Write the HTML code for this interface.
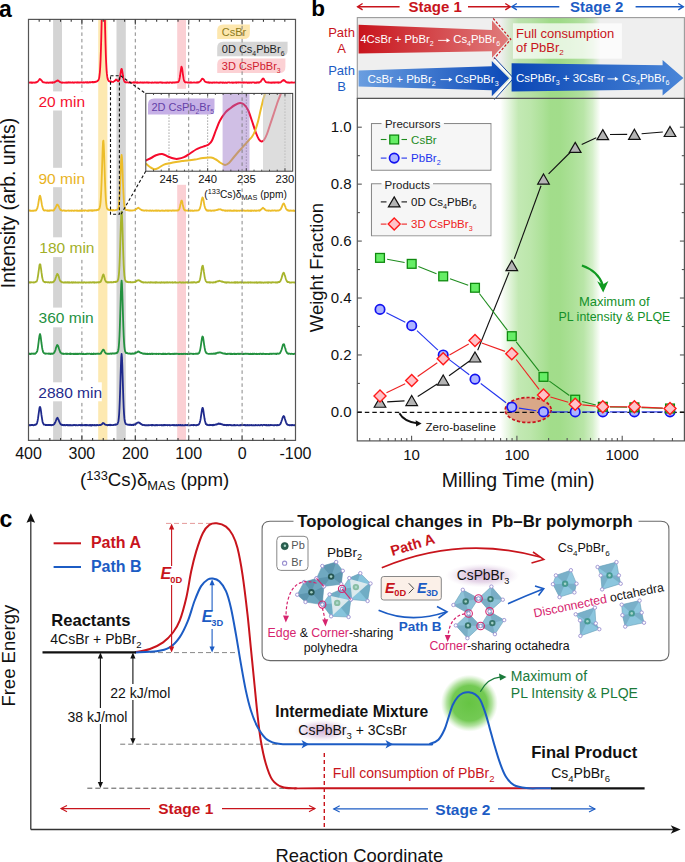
<!DOCTYPE html>
<html><head><meta charset="utf-8"><title>figure</title>
<style>html,body{margin:0;padding:0;background:#fff;} svg{display:block;} text{font-family:"Liberation Sans", sans-serif;}</style>
</head><body>
<svg width="685" height="862" viewBox="0 0 685 862" font-family='"Liberation Sans", sans-serif'><defs>
<clipPath id="clipA"><rect x="28.5" y="19.4" width="267.0" height="421.0"/></clipPath>
<clipPath id="clipI"><rect x="145.8" y="93.4" width="146.89999999999998" height="77.79999999999998"/></clipPath>
</defs><g id="bands">
<rect x="53.10" y="19.40" width="8.90" height="421.00" fill="#d4d4d4" />
<rect x="98.20" y="19.40" width="9.20" height="421.00" fill="#fde9b1" />
<rect x="116.50" y="19.40" width="9.30" height="421.00" fill="#d4d4d4" />
<rect x="177.20" y="19.40" width="8.80" height="421.00" fill="#fbd0d4" />
</g>
<line x1="81.90" y1="19.40" x2="81.90" y2="440.40" stroke="#7a7a7a" stroke-width="0.9" stroke-dasharray="3.5,3"/>
<line x1="135.30" y1="19.40" x2="135.30" y2="440.40" stroke="#7a7a7a" stroke-width="0.9" stroke-dasharray="3.5,3"/>
<rect x="140.00" y="88.80" width="155.00" height="96.00" fill="#fff" />
<rect x="36.50" y="91.40" width="49.00" height="19.10" fill="#fff" />
<rect x="36.50" y="167.80" width="50.00" height="19.40" fill="#fff" />
<rect x="37.00" y="237.30" width="57.50" height="19.80" fill="#fff" />
<rect x="36.50" y="307.60" width="58.00" height="19.70" fill="#fff" />
<rect x="36.50" y="382.30" width="65.30" height="19.00" fill="#fff" />
<g clip-path="url(#clipA)" fill="none" stroke-linejoin="round">
<polyline points="28.50,82.43 28.85,82.60 29.20,82.50 29.55,82.63 29.90,82.64 30.25,82.33 30.60,82.30 30.95,82.76 31.30,82.43 31.65,82.42 32.00,82.84 32.35,82.54 32.70,82.75 33.05,82.54 33.40,82.63 33.75,82.35 34.10,82.62 34.45,82.74 34.80,82.54 35.15,82.64 35.50,82.58 35.85,82.20 36.20,82.52 36.55,82.32 36.90,82.00 37.25,81.62 37.60,81.79 37.95,81.19 38.30,80.88 38.65,80.48 39.00,79.90 39.35,79.59 39.70,79.01 40.05,79.15 40.40,79.10 40.75,79.71 41.10,80.12 41.45,80.18 41.80,80.68 42.15,81.16 42.50,81.93 42.85,81.91 43.20,82.23 43.55,82.18 43.90,82.39 44.25,82.38 44.60,82.40 44.95,82.55 45.30,82.57 45.65,82.75 46.00,82.63 46.35,82.78 46.70,82.74 47.05,82.82 47.40,82.64 47.75,82.36 48.10,82.75 48.45,82.81 48.80,82.78 49.15,82.59 49.50,82.67 49.85,82.39 50.20,82.73 50.55,82.59 50.90,82.42 51.25,82.30 51.60,82.74 51.95,82.81 52.30,82.30 52.65,82.69 53.00,82.45 53.35,82.28 53.70,82.31 54.05,82.51 54.40,82.47 54.75,81.86 55.10,81.99 55.45,81.44 55.80,81.54 56.15,81.04 56.50,81.07 56.85,80.90 57.20,80.49 57.55,80.76 57.90,80.49 58.25,80.58 58.60,81.15 58.95,81.12 59.30,81.48 59.65,81.84 60.00,82.15 60.35,82.04 60.70,82.09 61.05,82.62 61.40,82.36 61.75,82.75 62.10,82.74 62.45,82.46 62.80,82.51 63.15,82.55 63.50,82.62 63.85,82.59 64.20,82.58 64.55,82.61 64.90,82.79 65.25,82.55 65.60,82.51 65.95,82.67 66.30,82.40 66.65,82.44 67.00,82.81 67.35,82.56 67.70,82.57 68.05,82.27 68.40,82.50 68.75,82.59 69.10,82.28 69.45,82.61 69.80,82.62 70.15,82.30 70.50,82.61 70.85,82.52 71.20,82.64 71.55,82.46 71.90,82.65 72.25,82.67 72.60,82.27 72.95,82.29 73.30,82.63 73.65,82.79 74.00,82.39 74.35,82.51 74.70,82.58 75.05,82.43 75.40,82.45 75.75,82.42 76.10,82.45 76.45,82.58 76.80,82.41 77.15,82.45 77.50,82.67 77.85,82.25 78.20,82.55 78.55,82.64 78.90,82.40 79.25,82.35 79.60,82.67 79.95,82.35 80.30,82.32 80.65,82.46 81.00,82.60 81.35,82.26 81.70,82.38 82.05,82.39 82.40,82.66 82.75,82.44 83.10,82.67 83.45,82.28 83.80,82.37 84.15,82.54 84.50,82.66 84.85,82.42 85.20,82.28 85.55,82.22 85.90,82.44 86.25,82.24 86.60,82.58 86.95,82.59 87.30,82.22 87.65,82.26 88.00,82.55 88.35,82.44 88.70,82.52 89.05,82.25 89.40,82.12 89.75,82.20 90.10,82.46 90.45,82.16 90.80,82.18 91.15,82.20 91.50,82.18 91.85,82.15 92.20,82.42 92.55,81.96 92.90,81.85 93.25,82.34 93.60,82.27 93.95,82.29 94.30,81.93 94.65,82.17 95.00,82.10 95.35,81.64 95.70,81.87 96.05,81.83 96.40,81.64 96.75,81.45 97.10,81.18 97.45,81.04 97.80,80.73 98.15,80.29 98.50,80.04 98.85,78.99 99.20,77.85 99.55,75.12 99.90,72.02 100.25,66.57 100.60,59.19 100.95,49.18 101.30,36.71 101.65,21.98 102.00,5.98 102.35,-8.98 102.70,-22.35 103.05,-30.64 103.40,-32.02 103.75,-26.46 104.10,-15.18 104.45,-0.23 104.80,15.34 105.15,30.36 105.50,43.76 105.85,55.18 106.20,63.51 106.55,69.89 106.90,73.92 107.25,76.63 107.60,78.58 107.95,79.82 108.30,80.13 108.65,80.89 109.00,81.24 109.35,81.37 109.70,81.53 110.05,81.19 110.40,81.63 110.75,81.85 111.10,81.46 111.45,81.65 111.80,81.70 112.15,81.88 112.50,81.85 112.85,81.88 113.20,82.03 113.55,81.52 113.90,81.41 114.25,81.22 114.60,80.91 114.95,80.49 115.30,80.59 115.65,80.14 116.00,79.47 116.35,79.69 116.70,79.80 117.05,80.15 117.40,80.57 117.75,81.08 118.10,81.26 118.45,81.15 118.80,80.80 119.15,80.26 119.50,79.09 119.85,77.78 120.20,75.88 120.55,73.43 120.90,71.04 121.25,69.39 121.60,68.85 121.95,69.65 122.30,71.47 122.65,73.48 123.00,76.01 123.35,77.93 123.70,79.42 124.05,80.53 124.40,81.34 124.75,81.90 125.10,82.00 125.45,82.29 125.80,82.24 126.15,82.17 126.50,82.36 126.85,82.47 127.20,82.14 127.55,82.36 127.90,82.37 128.25,82.64 128.60,82.68 128.95,82.37 129.30,82.68 129.65,82.62 130.00,82.33 130.35,82.45 130.70,82.27 131.05,82.66 131.40,82.58 131.75,82.71 132.10,82.66 132.45,82.59 132.80,82.64 133.15,82.54 133.50,82.29 133.85,82.56 134.20,82.24 134.55,82.32 134.90,82.68 135.25,82.27 135.60,82.30 135.95,82.30 136.30,82.74 136.65,82.35 137.00,82.27 137.35,82.73 137.70,82.32 138.05,82.73 138.40,82.64 138.75,82.73 139.10,82.80 139.45,82.59 139.80,82.71 140.15,82.29 140.50,82.70 140.85,82.55 141.20,82.67 141.55,82.33 141.90,82.69 142.25,82.80 142.60,82.31 142.95,82.46 143.30,82.59 143.65,82.74 144.00,82.41 144.35,82.38 144.70,82.42 145.05,82.62 145.40,82.70 145.75,82.50 146.10,82.49 146.45,82.50 146.80,82.48 147.15,82.52 147.50,82.33 147.85,82.56 148.20,82.83 148.55,82.51 148.90,82.70 149.25,82.37 149.60,82.67 149.95,82.71 150.30,82.66 150.65,82.58 151.00,82.56 151.35,82.65 151.70,82.79 152.05,82.37 152.40,82.34 152.75,82.71 153.10,82.80 153.45,82.58 153.80,82.54 154.15,82.69 154.50,82.39 154.85,82.44 155.20,82.40 155.55,82.62 155.90,82.47 156.25,82.42 156.60,82.68 156.95,82.82 157.30,82.46 157.65,82.68 158.00,82.52 158.35,82.77 158.70,82.62 159.05,82.44 159.40,82.41 159.75,82.30 160.10,82.56 160.45,82.50 160.80,82.39 161.15,82.49 161.50,82.47 161.85,82.72 162.20,82.37 162.55,82.84 162.90,82.56 163.25,82.62 163.60,82.55 163.95,82.75 164.30,82.75 164.65,82.60 165.00,82.56 165.35,82.69 165.70,82.76 166.05,82.51 166.40,82.69 166.75,82.82 167.10,82.54 167.45,82.41 167.80,82.41 168.15,82.68 168.50,82.66 168.85,82.81 169.20,82.75 169.55,82.41 169.90,82.38 170.25,82.41 170.60,82.37 170.95,82.66 171.30,82.74 171.65,82.76 172.00,82.40 172.35,82.74 172.70,82.42 173.05,82.48 173.40,82.65 173.75,82.28 174.10,82.28 174.45,82.69 174.80,82.37 175.15,82.40 175.50,82.51 175.85,82.55 176.20,82.16 176.55,82.32 176.90,82.35 177.25,82.34 177.60,82.11 177.95,82.20 178.30,82.18 178.65,81.46 179.00,80.85 179.35,79.49 179.70,77.95 180.05,76.01 180.40,73.12 180.75,70.86 181.10,68.53 181.45,66.71 181.80,67.29 182.15,68.52 182.50,71.17 182.85,73.87 183.20,76.14 183.55,78.44 183.90,79.98 184.25,81.11 184.60,81.46 184.95,82.11 185.30,82.43 185.65,82.38 186.00,82.37 186.35,82.17 186.70,82.41 187.05,82.35 187.40,82.58 187.75,82.57 188.10,82.52 188.45,82.31 188.80,82.58 189.15,82.58 189.50,82.33 189.85,82.73 190.20,82.61 190.55,82.31 190.90,82.77 191.25,82.33 191.60,82.44 191.95,82.66 192.30,82.59 192.65,82.57 193.00,82.62 193.35,82.51 193.70,82.43 194.05,82.36 194.40,82.30 194.75,82.66 195.10,82.68 195.45,82.56 195.80,82.66 196.15,82.45 196.50,82.39 196.85,82.45 197.20,82.71 197.55,82.23 197.90,82.46 198.25,82.27 198.60,82.49 198.95,82.15 199.30,81.98 199.65,81.80 200.00,81.58 200.35,81.35 200.70,80.68 201.05,80.48 201.40,79.58 201.75,79.22 202.10,78.77 202.45,78.59 202.80,78.97 203.15,79.17 203.50,79.23 203.85,79.70 204.20,80.31 204.55,80.97 204.90,81.43 205.25,81.75 205.60,81.94 205.95,81.91 206.30,82.20 206.65,82.19 207.00,82.44 207.35,82.51 207.70,82.33 208.05,82.38 208.40,82.69 208.75,82.27 209.10,82.71 209.45,82.77 209.80,82.80 210.15,82.49 210.50,82.59 210.85,82.61 211.20,82.64 211.55,82.83 211.90,82.67 212.25,82.46 212.60,82.77 212.95,82.56 213.30,82.63 213.65,82.70 214.00,82.30 214.35,82.73 214.70,82.67 215.05,82.57 215.40,82.59 215.75,82.56 216.10,82.41 216.45,82.60 216.80,82.32 217.15,82.58 217.50,82.66 217.85,82.55 218.20,82.62 218.55,82.84 218.90,82.80 219.25,82.38 219.60,82.75 219.95,82.65 220.30,82.33 220.65,82.51 221.00,82.44 221.35,82.35 221.70,82.61 222.05,82.83 222.40,82.49 222.75,82.79 223.10,82.70 223.45,82.38 223.80,82.79 224.15,82.64 224.50,82.83 224.85,82.71 225.20,82.72 225.55,82.50 225.90,82.76 226.25,82.83 226.60,82.79 226.95,82.55 227.30,82.73 227.65,82.58 228.00,82.37 228.35,82.33 228.70,82.35 229.05,82.42 229.40,82.40 229.75,82.59 230.10,82.70 230.45,82.61 230.80,82.55 231.15,82.67 231.50,82.48 231.85,82.57 232.20,82.73 232.55,82.54 232.90,82.41 233.25,82.81 233.60,82.71 233.95,82.52 234.30,82.52 234.65,82.61 235.00,82.64 235.35,82.44 235.70,82.31 236.05,82.43 236.40,82.75 236.75,82.39 237.10,82.57 237.45,82.42 237.80,82.43 238.15,82.41 238.50,82.54 238.85,82.40 239.20,82.33 239.55,82.37 239.90,82.40 240.25,82.58 240.60,82.34 240.95,82.32 241.30,82.56 241.65,82.54 242.00,82.70 242.35,82.34 242.70,82.54 243.05,82.53 243.40,82.32 243.75,82.85 244.10,82.43 244.45,82.36 244.80,82.57 245.15,82.40 245.50,82.66 245.85,82.50 246.20,82.38 246.55,82.34 246.90,82.72 247.25,82.46 247.60,82.75 247.95,82.57 248.30,82.83 248.65,82.47 249.00,82.45 249.35,82.45 249.70,82.76 250.05,82.66 250.40,82.50 250.75,82.36 251.10,82.69 251.45,82.85 251.80,82.63 252.15,82.30 252.50,82.32 252.85,82.35 253.20,82.39 253.55,82.32 253.90,82.33 254.25,82.66 254.60,82.80 254.95,82.40 255.30,82.83 255.65,82.55 256.00,82.73 256.35,82.79 256.70,82.80 257.05,82.29 257.40,82.43 257.75,82.60 258.10,82.77 258.45,82.27 258.80,82.36 259.15,82.62 259.50,82.11 259.85,82.13 260.20,81.88 260.55,81.76 260.90,81.48 261.25,80.55 261.60,80.27 261.95,79.65 262.30,79.14 262.65,78.58 263.00,78.63 263.35,78.47 263.70,78.91 264.05,79.37 264.40,80.29 264.75,80.72 265.10,81.11 265.45,81.47 265.80,82.09 266.15,82.25 266.50,82.45 266.85,82.35 267.20,82.46 267.55,82.31 267.90,82.64 268.25,82.27 268.60,82.52 268.95,82.69 269.30,82.65 269.65,82.33 270.00,82.41 270.35,82.75 270.70,82.64 271.05,82.78 271.40,82.77 271.75,82.54 272.10,82.79 272.45,82.70 272.80,82.48 273.15,82.50 273.50,82.33 273.85,82.51 274.20,82.83 274.55,82.35 274.90,82.61 275.25,82.35 275.60,82.33 275.95,82.65 276.30,82.42 276.65,82.31 277.00,82.37 277.35,82.64 277.70,82.60 278.05,82.28 278.40,82.39 278.75,82.79 279.10,82.34 279.45,82.50 279.80,82.36 280.15,82.48 280.50,82.26 280.85,82.19 281.20,81.84 281.55,81.39 281.90,81.09 282.25,80.73 282.60,80.85 282.95,80.20 283.30,79.98 283.65,80.46 284.00,80.11 284.35,80.70 284.70,80.52 285.05,81.04 285.40,81.21 285.75,81.83 286.10,81.95 286.45,82.17 286.80,82.39 287.15,82.56 287.50,82.34 287.85,82.54 288.20,82.48 288.55,82.32 288.90,82.73 289.25,82.61 289.60,82.74 289.95,82.40 290.30,82.59 290.65,82.55 291.00,82.70 291.35,82.34 291.70,82.49 292.05,82.57 292.40,82.34 292.75,82.61 293.10,82.71 293.45,82.54 293.80,82.67 294.15,82.64 294.50,82.43 294.85,82.50 295.20,82.86" stroke="#fa0a2c" stroke-width="1.8"/>
<polyline points="28.50,210.55 28.85,210.60 29.20,210.41 29.55,210.48 29.90,210.45 30.25,210.87 30.60,210.75 30.95,210.83 31.30,210.89 31.65,210.67 32.00,210.84 32.35,210.61 32.70,210.54 33.05,210.82 33.40,210.78 33.75,210.79 34.10,210.52 34.45,210.66 34.80,210.42 35.15,210.70 35.50,210.59 35.85,210.11 36.20,210.27 36.55,209.51 36.90,208.92 37.25,208.45 37.60,207.05 37.95,205.63 38.30,203.81 38.65,201.33 39.00,199.53 39.35,197.31 39.70,196.05 40.05,195.61 40.40,196.52 40.75,198.09 41.10,199.89 41.45,201.99 41.80,204.18 42.15,206.04 42.50,207.29 42.85,208.39 43.20,209.46 43.55,209.90 43.90,210.35 44.25,210.53 44.60,210.57 44.95,210.35 45.30,210.27 45.65,210.39 46.00,210.49 46.35,210.54 46.70,210.56 47.05,210.47 47.40,210.75 47.75,210.44 48.10,210.55 48.45,210.79 48.80,210.75 49.15,210.46 49.50,210.43 49.85,210.75 50.20,210.30 50.55,210.37 50.90,210.59 51.25,210.58 51.60,210.37 51.95,210.28 52.30,210.35 52.65,210.62 53.00,210.38 53.35,210.56 53.70,210.29 54.05,210.17 54.40,209.30 54.75,208.94 55.10,208.29 55.45,207.86 55.80,207.06 56.15,206.13 56.50,205.68 56.85,204.84 57.20,204.61 57.55,204.55 57.90,205.17 58.25,205.52 58.60,206.14 58.95,206.79 59.30,207.76 59.65,208.55 60.00,209.15 60.35,209.75 60.70,210.04 61.05,209.98 61.40,210.09 61.75,210.55 62.10,210.64 62.45,210.53 62.80,210.74 63.15,210.60 63.50,210.46 63.85,210.41 64.20,210.33 64.55,210.69 64.90,210.84 65.25,210.85 65.60,210.61 65.95,210.72 66.30,210.87 66.65,210.81 67.00,210.69 67.35,210.59 67.70,210.65 68.05,210.46 68.40,210.46 68.75,210.75 69.10,210.92 69.45,210.67 69.80,210.59 70.15,210.56 70.50,210.62 70.85,210.82 71.20,210.62 71.55,210.90 71.90,210.45 72.25,210.54 72.60,210.66 72.95,210.60 73.30,210.84 73.65,210.83 74.00,210.89 74.35,210.71 74.70,210.38 75.05,210.69 75.40,210.67 75.75,210.64 76.10,210.52 76.45,210.76 76.80,210.87 77.15,210.42 77.50,210.74 77.85,210.57 78.20,210.65 78.55,210.86 78.90,210.90 79.25,210.72 79.60,210.47 79.95,210.87 80.30,210.46 80.65,210.57 81.00,210.82 81.35,210.53 81.70,210.50 82.05,210.88 82.40,210.87 82.75,210.52 83.10,210.56 83.45,210.50 83.80,210.41 84.15,210.48 84.50,210.88 84.85,210.37 85.20,210.46 85.55,210.44 85.90,210.37 86.25,210.61 86.60,210.73 86.95,210.78 87.30,210.66 87.65,210.76 88.00,210.30 88.35,210.45 88.70,210.83 89.05,210.32 89.40,210.42 89.75,210.54 90.10,210.41 90.45,210.56 90.80,210.27 91.15,210.37 91.50,210.76 91.85,210.30 92.20,210.71 92.55,210.29 92.90,210.73 93.25,210.54 93.60,210.51 93.95,210.20 94.30,210.13 94.65,210.51 95.00,210.15 95.35,210.13 95.70,210.45 96.05,210.44 96.40,209.93 96.75,210.39 97.10,210.09 97.45,209.93 97.80,209.69 98.15,209.74 98.50,209.91 98.85,209.27 99.20,208.78 99.55,208.07 99.90,206.81 100.25,204.81 100.60,201.71 100.95,196.11 101.30,189.02 101.65,180.30 102.00,169.67 102.35,158.54 102.70,148.18 103.05,141.60 103.40,140.65 103.75,144.92 104.10,153.86 104.45,164.49 104.80,175.34 105.15,185.40 105.50,193.65 105.85,199.64 106.20,203.62 106.55,206.18 106.90,207.80 107.25,208.65 107.60,209.21 107.95,209.68 108.30,209.51 108.65,209.85 109.00,210.13 109.35,210.16 109.70,209.84 110.05,210.33 110.40,210.30 110.75,209.96 111.10,210.04 111.45,210.02 111.80,209.96 112.15,210.49 112.50,210.17 112.85,210.44 113.20,210.01 113.55,209.95 113.90,210.43 114.25,210.37 114.60,210.46 114.95,210.27 115.30,210.15 115.65,210.25 116.00,209.83 116.35,210.02 116.70,209.88 117.05,209.61 117.40,209.69 117.75,209.23 118.10,208.77 118.45,207.67 118.80,205.81 119.15,202.78 119.50,198.21 119.85,191.82 120.20,183.42 120.55,173.92 120.90,164.65 121.25,157.24 121.60,154.89 121.95,157.24 122.30,164.26 122.65,173.73 123.00,183.33 123.35,191.49 123.70,198.27 124.05,202.77 124.40,206.21 124.75,207.76 125.10,208.81 125.45,209.40 125.80,209.90 126.15,210.15 126.50,210.01 126.85,210.05 127.20,210.21 127.55,209.96 127.90,210.20 128.25,210.48 128.60,210.47 128.95,210.10 129.30,210.57 129.65,210.33 130.00,210.68 130.35,210.35 130.70,210.28 131.05,210.48 131.40,210.67 131.75,210.42 132.10,210.67 132.45,210.57 132.80,210.36 133.15,210.31 133.50,210.38 133.85,210.27 134.20,210.17 134.55,210.22 134.90,210.21 135.25,209.88 135.60,209.44 135.95,209.25 136.30,209.08 136.65,208.95 137.00,208.43 137.35,208.16 137.70,208.09 138.05,207.94 138.40,207.76 138.75,208.09 139.10,208.44 139.45,208.43 139.80,208.79 140.15,209.10 140.50,209.38 140.85,209.68 141.20,209.65 141.55,209.99 141.90,209.85 142.25,210.42 142.60,210.25 142.95,210.39 143.30,210.69 143.65,210.40 144.00,210.37 144.35,210.75 144.70,210.64 145.05,210.37 145.40,210.34 145.75,210.53 146.10,210.34 146.45,210.81 146.80,210.45 147.15,210.50 147.50,210.57 147.85,210.64 148.20,210.60 148.55,210.71 148.90,210.73 149.25,210.61 149.60,210.42 149.95,210.92 150.30,210.76 150.65,210.42 151.00,210.62 151.35,210.79 151.70,210.93 152.05,210.41 152.40,210.38 152.75,210.65 153.10,210.61 153.45,210.88 153.80,210.84 154.15,210.57 154.50,210.61 154.85,210.71 155.20,210.88 155.55,210.50 155.90,210.60 156.25,210.43 156.60,210.74 156.95,210.40 157.30,210.91 157.65,210.68 158.00,210.71 158.35,210.43 158.70,210.52 159.05,210.65 159.40,210.87 159.75,210.69 160.10,210.55 160.45,210.94 160.80,210.76 161.15,210.68 161.50,210.50 161.85,210.55 162.20,210.89 162.55,210.46 162.90,210.68 163.25,210.73 163.60,210.59 163.95,210.82 164.30,210.90 164.65,210.87 165.00,210.80 165.35,210.50 165.70,210.42 166.05,210.63 166.40,210.56 166.75,210.49 167.10,210.87 167.45,210.50 167.80,210.84 168.15,210.91 168.50,210.45 168.85,210.89 169.20,210.60 169.55,210.50 169.90,210.48 170.25,210.40 170.60,210.65 170.95,210.59 171.30,210.85 171.65,210.84 172.00,210.40 172.35,210.59 172.70,210.58 173.05,210.46 173.40,210.50 173.75,210.50 174.10,210.74 174.45,210.53 174.80,210.40 175.15,210.45 175.50,210.57 175.85,210.63 176.20,210.44 176.55,210.68 176.90,210.39 177.25,210.62 177.60,210.54 177.95,210.22 178.30,210.40 178.65,209.93 179.00,209.56 179.35,208.87 179.70,207.84 180.05,206.34 180.40,204.46 180.75,203.13 181.10,201.66 181.45,200.57 181.80,200.69 182.15,201.51 182.50,203.43 182.85,205.06 183.20,206.43 183.55,208.11 183.90,209.21 184.25,209.53 184.60,210.31 184.95,210.27 185.30,210.23 185.65,210.60 186.00,210.43 186.35,210.67 186.70,210.61 187.05,210.35 187.40,210.60 187.75,210.79 188.10,210.59 188.45,210.63 188.80,210.81 189.15,210.58 189.50,210.61 189.85,210.66 190.20,210.80 190.55,210.45 190.90,210.39 191.25,210.77 191.60,210.65 191.95,210.51 192.30,210.84 192.65,210.83 193.00,210.64 193.35,210.88 193.70,210.79 194.05,210.74 194.40,210.48 194.75,210.32 195.10,210.68 195.45,210.71 195.80,210.48 196.15,210.54 196.50,210.58 196.85,210.39 197.20,210.62 197.55,210.51 197.90,210.36 198.25,210.13 198.60,210.24 198.95,209.89 199.30,209.75 199.65,208.86 200.00,208.15 200.35,206.87 200.70,205.50 201.05,203.82 201.40,201.63 201.75,199.72 202.10,198.42 202.45,197.40 202.80,197.64 203.15,198.43 203.50,200.00 203.85,202.14 204.20,204.28 204.55,205.99 204.90,207.24 205.25,208.29 205.60,208.90 205.95,209.56 206.30,209.92 206.65,210.48 207.00,210.15 207.35,210.69 207.70,210.47 208.05,210.47 208.40,210.40 208.75,210.80 209.10,210.38 209.45,210.61 209.80,210.58 210.15,210.42 210.50,210.43 210.85,210.87 211.20,210.76 211.55,210.73 211.90,210.82 212.25,210.37 212.60,210.70 212.95,210.71 213.30,210.40 213.65,210.51 214.00,210.77 214.35,210.37 214.70,210.57 215.05,210.18 215.40,210.39 215.75,210.09 216.10,210.14 216.45,209.97 216.80,210.14 217.15,209.97 217.50,209.73 217.85,209.73 218.20,209.49 218.55,209.63 218.90,209.27 219.25,209.40 219.60,209.43 219.95,209.35 220.30,209.22 220.65,209.37 221.00,209.72 221.35,209.59 221.70,210.00 222.05,209.97 222.40,210.32 222.75,210.36 223.10,210.38 223.45,210.26 223.80,210.14 224.15,210.49 224.50,210.64 224.85,210.78 225.20,210.41 225.55,210.40 225.90,210.88 226.25,210.76 226.60,210.63 226.95,210.78 227.30,210.46 227.65,210.68 228.00,210.76 228.35,210.72 228.70,210.48 229.05,210.47 229.40,210.74 229.75,210.89 230.10,210.47 230.45,210.40 230.80,210.44 231.15,210.84 231.50,210.61 231.85,210.65 232.20,210.95 232.55,210.74 232.90,210.55 233.25,210.79 233.60,210.40 233.95,210.56 234.30,210.79 234.65,210.50 235.00,210.42 235.35,210.69 235.70,210.59 236.05,210.95 236.40,210.46 236.75,210.85 237.10,210.62 237.45,210.85 237.80,210.65 238.15,210.78 238.50,210.59 238.85,210.53 239.20,210.66 239.55,210.85 239.90,210.60 240.25,210.53 240.60,210.64 240.95,210.46 241.30,210.58 241.65,210.73 242.00,210.71 242.35,210.74 242.70,210.57 243.05,210.42 243.40,210.42 243.75,210.60 244.10,210.52 244.45,210.72 244.80,210.55 245.15,210.83 245.50,210.74 245.85,210.78 246.20,210.82 246.55,210.70 246.90,210.64 247.25,210.58 247.60,210.44 247.95,210.85 248.30,210.68 248.65,210.46 249.00,210.92 249.35,210.73 249.70,210.75 250.05,210.65 250.40,210.47 250.75,210.96 251.10,210.50 251.45,210.61 251.80,210.96 252.15,210.47 252.50,210.68 252.85,210.67 253.20,210.54 253.55,210.91 253.90,210.63 254.25,210.40 254.60,210.66 254.95,210.39 255.30,210.79 255.65,210.87 256.00,210.89 256.35,210.41 256.70,210.76 257.05,210.55 257.40,210.64 257.75,210.53 258.10,210.52 258.45,210.41 258.80,210.66 259.15,210.31 259.50,210.72 259.85,210.09 260.20,210.45 260.55,209.80 260.90,209.46 261.25,209.50 261.60,209.02 261.95,208.78 262.30,208.31 262.65,208.15 263.00,207.75 263.35,208.17 263.70,208.31 264.05,208.89 264.40,208.72 264.75,209.12 265.10,209.79 265.45,210.21 265.80,210.14 266.15,210.46 266.50,210.49 266.85,210.47 267.20,210.56 267.55,210.66 267.90,210.36 268.25,210.53 268.60,210.77 268.95,210.51 269.30,210.63 269.65,210.51 270.00,210.57 270.35,210.74 270.70,210.79 271.05,210.91 271.40,210.64 271.75,210.49 272.10,210.56 272.45,210.41 272.80,210.51 273.15,210.70 273.50,210.71 273.85,210.50 274.20,210.47 274.55,210.42 274.90,210.46 275.25,210.64 275.60,210.50 275.95,210.84 276.30,210.66 276.65,210.53 277.00,210.57 277.35,210.34 277.70,210.72 278.05,210.71 278.40,210.46 278.75,210.62 279.10,210.29 279.45,210.15 279.80,209.98 280.15,209.70 280.50,209.57 280.85,209.09 281.20,208.51 281.55,207.39 281.90,206.89 282.25,205.81 282.60,204.85 282.95,204.16 283.30,203.61 283.65,203.33 284.00,203.70 284.35,204.43 284.70,205.29 285.05,206.32 285.40,206.83 285.75,208.07 286.10,208.75 286.45,209.29 286.80,209.90 287.15,209.76 287.50,210.35 287.85,210.57 288.20,210.24 288.55,210.56 288.90,210.80 289.25,210.46 289.60,210.79 289.95,210.83 290.30,210.58 290.65,210.43 291.00,210.47 291.35,210.82 291.70,210.60 292.05,210.54 292.40,210.62 292.75,210.89 293.10,210.52 293.45,210.39 293.80,210.91 294.15,210.56 294.50,210.60 294.85,210.93 295.20,210.55" stroke="#ecbd2a" stroke-width="1.8"/>
<polyline points="28.50,282.21 28.85,282.65 29.20,282.29 29.55,282.27 29.90,282.67 30.25,282.26 30.60,282.63 30.95,282.31 31.30,282.29 31.65,282.23 32.00,282.40 32.35,282.40 32.70,282.30 33.05,282.35 33.40,282.22 33.75,282.50 34.10,282.53 34.45,282.40 34.80,282.40 35.15,281.93 35.50,281.94 35.85,281.76 36.20,281.48 36.55,281.51 36.90,280.81 37.25,279.81 37.60,278.17 37.95,276.03 38.30,273.87 38.65,271.02 39.00,268.79 39.35,266.02 39.70,264.36 40.05,264.25 40.40,264.68 40.75,267.02 41.10,269.22 41.45,272.13 41.80,274.39 42.15,277.05 42.50,278.53 42.85,279.81 43.20,280.88 43.55,281.43 43.90,281.60 44.25,281.75 44.60,282.13 44.95,281.90 45.30,282.42 45.65,282.16 46.00,282.08 46.35,282.19 46.70,282.09 47.05,282.21 47.40,282.35 47.75,282.28 48.10,282.25 48.45,282.23 48.80,282.34 49.15,282.50 49.50,282.31 49.85,282.50 50.20,282.34 50.55,282.13 50.90,282.15 51.25,282.52 51.60,282.30 51.95,282.22 52.30,282.26 52.65,282.39 53.00,282.03 53.35,281.88 53.70,281.65 54.05,281.12 54.40,280.95 54.75,280.29 55.10,279.52 55.45,278.56 55.80,277.53 56.15,276.59 56.50,275.28 56.85,274.90 57.20,273.93 57.55,274.32 57.90,274.36 58.25,275.49 58.60,276.19 58.95,277.17 59.30,278.48 59.65,279.60 60.00,280.41 60.35,281.08 60.70,281.62 61.05,281.46 61.40,281.88 61.75,281.89 62.10,282.36 62.45,282.25 62.80,282.46 63.15,282.51 63.50,282.64 63.85,282.48 64.20,282.60 64.55,282.43 64.90,282.17 65.25,282.63 65.60,282.19 65.95,282.19 66.30,282.61 66.65,282.31 67.00,282.53 67.35,282.17 67.70,282.28 68.05,282.56 68.40,282.19 68.75,282.45 69.10,282.69 69.45,282.29 69.80,282.57 70.15,282.59 70.50,282.52 70.85,282.61 71.20,282.57 71.55,282.19 71.90,282.29 72.25,282.48 72.60,282.73 72.95,282.30 73.30,282.51 73.65,282.26 74.00,282.66 74.35,282.43 74.70,282.48 75.05,282.56 75.40,282.26 75.75,282.60 76.10,282.64 76.45,282.67 76.80,282.35 77.15,282.32 77.50,282.28 77.85,282.69 78.20,282.43 78.55,282.41 78.90,282.48 79.25,282.58 79.60,282.37 79.95,282.38 80.30,282.62 80.65,282.62 81.00,282.35 81.35,282.23 81.70,282.71 82.05,282.60 82.40,282.52 82.75,282.41 83.10,282.72 83.45,282.43 83.80,282.31 84.15,282.24 84.50,282.38 84.85,282.52 85.20,282.39 85.55,282.72 85.90,282.55 86.25,282.44 86.60,282.55 86.95,282.52 87.30,282.53 87.65,282.46 88.00,282.47 88.35,282.46 88.70,282.65 89.05,282.29 89.40,282.62 89.75,282.34 90.10,282.65 90.45,282.22 90.80,282.45 91.15,282.42 91.50,282.57 91.85,282.28 92.20,282.32 92.55,282.24 92.90,282.48 93.25,282.49 93.60,282.16 93.95,282.26 94.30,282.27 94.65,282.69 95.00,282.40 95.35,282.46 95.70,282.30 96.05,282.51 96.40,282.59 96.75,282.50 97.10,282.12 97.45,282.36 97.80,282.38 98.15,282.12 98.50,282.52 98.85,282.24 99.20,282.19 99.55,282.33 99.90,282.21 100.25,281.99 100.60,281.90 100.95,281.23 101.30,280.41 101.65,279.27 102.00,278.33 102.35,276.91 102.70,275.78 103.05,274.84 103.40,274.48 103.75,275.07 104.10,276.23 104.45,277.50 104.80,279.19 105.15,280.12 105.50,280.76 105.85,281.60 106.20,281.92 106.55,281.81 106.90,282.31 107.25,282.08 107.60,282.54 107.95,282.08 108.30,282.16 108.65,282.15 109.00,282.49 109.35,282.47 109.70,282.33 110.05,282.09 110.40,282.24 110.75,282.38 111.10,282.01 111.45,282.48 111.80,282.43 112.15,282.46 112.50,282.32 112.85,282.25 113.20,282.43 113.55,282.01 113.90,282.00 114.25,281.86 114.60,281.86 114.95,282.16 115.30,281.71 115.65,282.01 116.00,281.74 116.35,281.92 116.70,281.73 117.05,281.51 117.40,281.32 117.75,280.38 118.10,279.62 118.45,278.10 118.80,275.46 119.15,271.32 119.50,265.13 119.85,256.50 120.20,246.09 120.55,234.35 120.90,223.04 121.25,214.70 121.60,211.62 121.95,214.88 122.30,223.04 122.65,234.16 123.00,245.91 123.35,256.22 123.70,265.13 124.05,270.95 124.40,275.58 124.75,278.17 125.10,279.58 125.45,280.67 125.80,281.11 126.15,281.67 126.50,281.80 126.85,281.76 127.20,282.01 127.55,282.09 127.90,281.75 128.25,282.18 128.60,282.22 128.95,282.35 129.30,282.25 129.65,282.08 130.00,282.00 130.35,282.27 130.70,282.04 131.05,282.36 131.40,282.27 131.75,282.42 132.10,282.16 132.45,282.13 132.80,282.46 133.15,282.31 133.50,282.12 133.85,282.18 134.20,282.04 134.55,282.07 134.90,281.89 135.25,281.62 135.60,281.84 135.95,281.60 136.30,281.31 136.65,280.82 137.00,280.56 137.35,280.66 137.70,280.54 138.05,280.34 138.40,280.06 138.75,280.38 139.10,280.39 139.45,280.48 139.80,280.81 140.15,280.95 140.50,281.29 140.85,281.57 141.20,281.90 141.55,281.59 141.90,281.99 142.25,282.32 142.60,282.26 142.95,282.29 143.30,282.50 143.65,282.08 144.00,282.53 144.35,282.46 144.70,282.45 145.05,282.31 145.40,282.49 145.75,282.21 146.10,282.44 146.45,282.30 146.80,282.68 147.15,282.61 147.50,282.43 147.85,282.59 148.20,282.38 148.55,282.46 148.90,282.26 149.25,282.65 149.60,282.60 149.95,282.60 150.30,282.22 150.65,282.64 151.00,282.19 151.35,282.50 151.70,282.45 152.05,282.21 152.40,282.42 152.75,282.68 153.10,282.53 153.45,282.36 153.80,282.64 154.15,282.39 154.50,282.69 154.85,282.41 155.20,282.23 155.55,282.73 155.90,282.23 156.25,282.33 156.60,282.62 156.95,282.26 157.30,282.50 157.65,282.67 158.00,282.52 158.35,282.39 158.70,282.62 159.05,282.66 159.40,282.52 159.75,282.55 160.10,282.38 160.45,282.42 160.80,282.75 161.15,282.74 161.50,282.20 161.85,282.31 162.20,282.32 162.55,282.64 162.90,282.31 163.25,282.29 163.60,282.63 163.95,282.29 164.30,282.75 164.65,282.45 165.00,282.70 165.35,282.66 165.70,282.31 166.05,282.64 166.40,282.43 166.75,282.32 167.10,282.23 167.45,282.59 167.80,282.51 168.15,282.37 168.50,282.67 168.85,282.31 169.20,282.45 169.55,282.25 169.90,282.40 170.25,282.70 170.60,282.48 170.95,282.29 171.30,282.33 171.65,282.56 172.00,282.36 172.35,282.70 172.70,282.23 173.05,282.69 173.40,282.55 173.75,282.66 174.10,282.40 174.45,282.24 174.80,282.30 175.15,282.55 175.50,282.21 175.85,282.26 176.20,282.64 176.55,282.69 176.90,282.68 177.25,282.67 177.60,282.51 177.95,282.69 178.30,282.59 178.65,282.51 179.00,282.44 179.35,282.21 179.70,282.25 180.05,282.34 180.40,282.45 180.75,282.26 181.10,282.74 181.45,282.52 181.80,282.61 182.15,282.69 182.50,282.32 182.85,282.69 183.20,282.73 183.55,282.34 183.90,282.26 184.25,282.64 184.60,282.69 184.95,282.64 185.30,282.42 185.65,282.52 186.00,282.25 186.35,282.32 186.70,282.42 187.05,282.60 187.40,282.23 187.75,282.70 188.10,282.20 188.45,282.72 188.80,282.31 189.15,282.63 189.50,282.63 189.85,282.70 190.20,282.43 190.55,282.56 190.90,282.33 191.25,282.63 191.60,282.22 191.95,282.65 192.30,282.48 192.65,282.18 193.00,282.67 193.35,282.31 193.70,282.17 194.05,282.27 194.40,282.13 194.75,282.26 195.10,282.49 195.45,282.64 195.80,282.43 196.15,282.54 196.50,282.50 196.85,282.42 197.20,282.20 197.55,282.09 197.90,281.97 198.25,282.09 198.60,281.72 198.95,281.73 199.30,281.03 199.65,280.43 200.00,279.33 200.35,277.87 200.70,275.68 201.05,273.46 201.40,271.22 201.75,268.53 202.10,266.81 202.45,265.87 202.80,265.63 203.15,267.21 203.50,269.08 203.85,271.72 204.20,273.95 204.55,276.32 204.90,278.14 205.25,279.31 205.60,280.52 205.95,281.25 206.30,281.62 206.65,282.00 207.00,282.30 207.35,282.33 207.70,282.40 208.05,282.06 208.40,282.40 208.75,282.38 209.10,282.57 209.45,282.06 209.80,282.17 210.15,282.63 210.50,282.30 210.85,282.49 211.20,282.43 211.55,282.32 211.90,282.34 212.25,282.41 212.60,282.64 212.95,282.37 213.30,282.50 213.65,282.20 214.00,282.39 214.35,282.29 214.70,282.32 215.05,282.33 215.40,281.80 215.75,282.21 216.10,281.91 216.45,281.60 216.80,281.60 217.15,281.27 217.50,281.23 217.85,281.45 218.20,281.27 218.55,281.27 218.90,280.82 219.25,280.76 219.60,280.91 219.95,281.01 220.30,281.20 220.65,281.06 221.00,281.42 221.35,281.45 221.70,281.41 222.05,281.81 222.40,281.53 222.75,281.93 223.10,281.81 223.45,281.82 223.80,282.14 224.15,282.23 224.50,282.34 224.85,282.25 225.20,282.59 225.55,282.54 225.90,282.21 226.25,282.14 226.60,282.69 226.95,282.39 227.30,282.23 227.65,282.27 228.00,282.57 228.35,282.28 228.70,282.39 229.05,282.57 229.40,282.39 229.75,282.56 230.10,282.72 230.45,282.64 230.80,282.55 231.15,282.54 231.50,282.37 231.85,282.55 232.20,282.56 232.55,282.53 232.90,282.47 233.25,282.62 233.60,282.31 233.95,282.60 234.30,282.75 234.65,282.22 235.00,282.34 235.35,282.75 235.70,282.25 236.05,282.66 236.40,282.53 236.75,282.24 237.10,282.56 237.45,282.21 237.80,282.68 238.15,282.37 238.50,282.72 238.85,282.71 239.20,282.28 239.55,282.43 239.90,282.29 240.25,282.63 240.60,282.26 240.95,282.25 241.30,282.27 241.65,282.69 242.00,282.35 242.35,282.39 242.70,282.46 243.05,282.52 243.40,282.44 243.75,282.74 244.10,282.40 244.45,282.47 244.80,282.69 245.15,282.34 245.50,282.31 245.85,282.68 246.20,282.39 246.55,282.71 246.90,282.67 247.25,282.42 247.60,282.39 247.95,282.27 248.30,282.70 248.65,282.46 249.00,282.40 249.35,282.31 249.70,282.34 250.05,282.70 250.40,282.28 250.75,282.52 251.10,282.56 251.45,282.50 251.80,282.49 252.15,282.43 252.50,282.32 252.85,282.67 253.20,282.71 253.55,282.52 253.90,282.35 254.25,282.72 254.60,282.32 254.95,282.30 255.30,282.56 255.65,282.67 256.00,282.53 256.35,282.27 256.70,282.76 257.05,282.30 257.40,282.40 257.75,282.76 258.10,282.65 258.45,282.63 258.80,282.25 259.15,282.68 259.50,282.43 259.85,282.21 260.20,282.65 260.55,282.73 260.90,282.23 261.25,282.46 261.60,282.71 261.95,282.39 262.30,282.37 262.65,282.64 263.00,282.45 263.35,282.76 263.70,282.68 264.05,282.68 264.40,282.60 264.75,282.31 265.10,282.59 265.45,282.52 265.80,282.47 266.15,282.52 266.50,282.37 266.85,282.31 267.20,282.71 267.55,282.40 267.90,282.26 268.25,282.74 268.60,282.48 268.95,282.57 269.30,282.38 269.65,282.27 270.00,282.38 270.35,282.65 270.70,282.34 271.05,282.70 271.40,282.35 271.75,282.68 272.10,282.28 272.45,282.43 272.80,282.25 273.15,282.25 273.50,282.46 273.85,282.37 274.20,282.46 274.55,282.28 274.90,282.33 275.25,282.33 275.60,282.64 275.95,282.18 276.30,282.36 276.65,282.60 277.00,282.43 277.35,282.24 277.70,282.63 278.05,282.11 278.40,282.08 278.75,281.95 279.10,282.09 279.45,282.17 279.80,281.61 280.15,281.26 280.50,281.05 280.85,279.97 281.20,279.08 281.55,278.40 281.90,276.89 282.25,275.88 282.60,274.44 282.95,273.65 283.30,273.10 283.65,272.68 284.00,272.93 284.35,273.94 284.70,275.09 285.05,275.97 285.40,277.32 285.75,278.55 286.10,279.62 286.45,280.30 286.80,281.13 287.15,281.36 287.50,282.04 287.85,281.94 288.20,282.00 288.55,282.01 288.90,282.09 289.25,282.18 289.60,282.57 289.95,282.33 290.30,282.36 290.65,282.66 291.00,282.67 291.35,282.57 291.70,282.28 292.05,282.33 292.40,282.44 292.75,282.30 293.10,282.36 293.45,282.29 293.80,282.31 294.15,282.59 294.50,282.51 294.85,282.43 295.20,282.45" stroke="#a7b42c" stroke-width="1.8"/>
<polyline points="28.50,353.90 28.85,353.93 29.20,353.56 29.55,354.01 29.90,353.80 30.25,353.72 30.60,354.06 30.95,353.94 31.30,353.71 31.65,353.52 32.00,353.74 32.35,353.73 32.70,353.68 33.05,353.51 33.40,353.76 33.75,353.56 34.10,353.82 34.45,353.66 34.80,353.49 35.15,353.73 35.50,353.42 35.85,353.06 36.20,352.90 36.55,352.33 36.90,351.83 37.25,351.03 37.60,349.53 37.95,347.35 38.30,344.60 38.65,341.86 39.00,338.97 39.35,336.51 39.70,334.89 40.05,334.03 40.40,335.20 40.75,337.21 41.10,340.03 41.45,343.00 41.80,345.48 42.15,347.94 42.50,349.63 42.85,351.11 43.20,352.17 43.55,352.46 43.90,353.11 44.25,353.33 44.60,353.29 44.95,353.40 45.30,353.78 45.65,353.55 46.00,353.48 46.35,353.56 46.70,353.70 47.05,353.65 47.40,353.63 47.75,353.62 48.10,353.57 48.45,353.74 48.80,353.79 49.15,353.51 49.50,353.79 49.85,353.63 50.20,354.01 50.55,353.98 50.90,353.52 51.25,353.83 51.60,353.62 51.95,353.46 52.30,353.85 52.65,353.81 53.00,353.64 53.35,353.40 53.70,353.35 54.05,352.76 54.40,352.33 54.75,351.66 55.10,350.95 55.45,349.96 55.80,348.54 56.15,347.35 56.50,346.46 56.85,345.61 57.20,344.97 57.55,345.22 57.90,345.66 58.25,346.40 58.60,347.38 58.95,348.61 59.30,349.45 59.65,350.80 60.00,351.27 60.35,352.39 60.70,352.76 61.05,352.94 61.40,353.14 61.75,353.54 62.10,353.58 62.45,353.78 62.80,353.48 63.15,353.95 63.50,353.72 63.85,353.74 64.20,353.92 64.55,353.85 64.90,353.77 65.25,353.69 65.60,353.79 65.95,353.56 66.30,353.69 66.65,354.01 67.00,353.62 67.35,353.60 67.70,354.03 68.05,353.77 68.40,353.86 68.75,353.89 69.10,353.97 69.45,353.75 69.80,354.00 70.15,353.57 70.50,354.05 70.85,353.75 71.20,353.93 71.55,353.75 71.90,354.00 72.25,353.79 72.60,353.92 72.95,353.76 73.30,354.05 73.65,354.02 74.00,353.70 74.35,354.01 74.70,354.11 75.05,353.72 75.40,353.69 75.75,354.11 76.10,354.13 76.45,353.66 76.80,354.02 77.15,354.11 77.50,353.74 77.85,354.03 78.20,353.76 78.55,354.03 78.90,353.87 79.25,353.85 79.60,353.66 79.95,353.95 80.30,353.98 80.65,353.75 81.00,353.61 81.35,353.64 81.70,353.73 82.05,354.15 82.40,354.01 82.75,354.09 83.10,354.01 83.45,353.66 83.80,353.80 84.15,354.12 84.50,354.07 84.85,354.14 85.20,354.05 85.55,353.99 85.90,354.01 86.25,354.10 86.60,353.83 86.95,353.60 87.30,353.76 87.65,353.59 88.00,353.74 88.35,353.91 88.70,353.74 89.05,353.72 89.40,353.64 89.75,353.78 90.10,353.87 90.45,353.91 90.80,354.11 91.15,353.62 91.50,353.72 91.85,353.62 92.20,354.10 92.55,353.93 92.90,353.94 93.25,354.03 93.60,353.57 93.95,354.07 94.30,353.75 94.65,353.92 95.00,353.79 95.35,353.98 95.70,353.73 96.05,353.71 96.40,353.69 96.75,353.95 97.10,353.80 97.45,353.63 97.80,353.73 98.15,353.84 98.50,353.73 98.85,353.84 99.20,353.96 99.55,353.82 99.90,353.86 100.25,353.48 100.60,353.63 100.95,353.40 101.30,352.77 101.65,351.93 102.00,351.29 102.35,350.93 102.70,350.31 103.05,349.76 103.40,349.55 103.75,349.88 104.10,350.25 104.45,351.25 104.80,352.18 105.15,352.34 105.50,353.03 105.85,353.48 106.20,353.57 106.55,353.52 106.90,353.52 107.25,353.83 107.60,353.95 107.95,353.93 108.30,353.66 108.65,353.85 109.00,353.89 109.35,353.64 109.70,353.85 110.05,353.63 110.40,353.52 110.75,353.40 111.10,353.79 111.45,353.80 111.80,353.39 112.15,353.38 112.50,353.51 112.85,353.42 113.20,353.69 113.55,353.36 113.90,353.55 114.25,353.50 114.60,353.34 114.95,353.58 115.30,353.29 115.65,353.27 116.00,353.28 116.35,353.03 116.70,352.78 117.05,353.03 117.40,352.62 117.75,352.00 118.10,351.05 118.45,349.50 118.80,346.54 119.15,342.00 119.50,335.73 119.85,327.08 120.20,315.74 120.55,304.22 120.90,292.36 121.25,283.99 121.60,280.54 121.95,283.59 122.30,292.27 122.65,304.17 123.00,316.23 123.35,327.02 123.70,335.75 124.05,342.26 124.40,346.82 124.75,349.61 125.10,351.24 125.45,351.85 125.80,352.66 126.15,353.03 126.50,353.00 126.85,352.81 127.20,353.01 127.55,353.34 127.90,353.28 128.25,353.61 128.60,353.50 128.95,353.57 129.30,353.30 129.65,353.54 130.00,353.67 130.35,353.81 130.70,353.82 131.05,353.48 131.40,353.62 131.75,353.90 132.10,353.41 132.45,353.40 132.80,353.45 133.15,353.74 133.50,353.49 133.85,353.66 134.20,353.66 134.55,353.56 134.90,353.02 135.25,353.24 135.60,353.14 135.95,352.89 136.30,352.77 136.65,352.52 137.00,352.19 137.35,352.13 137.70,351.78 138.05,351.43 138.40,351.49 138.75,351.90 139.10,351.68 139.45,351.93 139.80,352.36 140.15,352.48 140.50,352.77 140.85,352.81 141.20,353.03 141.55,352.97 141.90,353.18 142.25,353.28 142.60,353.59 142.95,353.66 143.30,353.46 143.65,353.81 144.00,353.54 144.35,353.72 144.70,353.53 145.05,353.80 145.40,353.62 145.75,354.07 146.10,353.75 146.45,354.02 146.80,353.80 147.15,353.74 147.50,354.03 147.85,353.72 148.20,353.85 148.55,353.93 148.90,354.13 149.25,353.96 149.60,353.60 149.95,353.83 150.30,354.11 150.65,354.06 151.00,353.78 151.35,353.65 151.70,353.73 152.05,354.00 152.40,353.68 152.75,354.08 153.10,353.73 153.45,353.97 153.80,353.97 154.15,353.72 154.50,353.88 154.85,353.94 155.20,353.74 155.55,353.89 155.90,353.94 156.25,354.13 156.60,353.75 156.95,353.69 157.30,353.88 157.65,353.93 158.00,353.87 158.35,354.10 158.70,353.71 159.05,353.88 159.40,353.86 159.75,353.71 160.10,353.85 160.45,353.85 160.80,353.81 161.15,354.03 161.50,354.15 161.85,354.14 162.20,353.72 162.55,353.81 162.90,354.13 163.25,353.64 163.60,353.65 163.95,353.63 164.30,354.14 164.65,353.88 165.00,353.84 165.35,353.65 165.70,354.09 166.05,354.15 166.40,353.98 166.75,354.11 167.10,353.92 167.45,353.77 167.80,353.70 168.15,353.77 168.50,353.68 168.85,353.81 169.20,353.63 169.55,353.62 169.90,354.10 170.25,354.07 170.60,354.06 170.95,353.80 171.30,353.85 171.65,353.90 172.00,354.04 172.35,353.77 172.70,353.89 173.05,353.91 173.40,354.07 173.75,353.80 174.10,353.60 174.45,353.83 174.80,354.09 175.15,353.70 175.50,353.95 175.85,353.67 176.20,353.75 176.55,353.95 176.90,353.66 177.25,353.85 177.60,353.93 177.95,353.82 178.30,354.02 178.65,354.07 179.00,353.75 179.35,354.02 179.70,354.02 180.05,353.93 180.40,353.93 180.75,353.91 181.10,354.01 181.45,353.98 181.80,353.75 182.15,353.96 182.50,353.99 182.85,353.85 183.20,354.09 183.55,353.77 183.90,353.90 184.25,353.91 184.60,353.93 184.95,353.69 185.30,353.96 185.65,353.65 186.00,353.88 186.35,353.84 186.70,353.97 187.05,354.06 187.40,354.13 187.75,353.71 188.10,354.09 188.45,353.84 188.80,353.86 189.15,353.60 189.50,354.05 189.85,353.70 190.20,353.72 190.55,353.73 190.90,353.69 191.25,353.72 191.60,353.72 191.95,353.85 192.30,353.75 192.65,353.97 193.00,354.06 193.35,354.05 193.70,353.74 194.05,353.90 194.40,353.92 194.75,353.91 195.10,353.72 195.45,353.59 195.80,353.89 196.15,353.82 196.50,353.63 196.85,353.78 197.20,353.42 197.55,353.78 197.90,353.77 198.25,353.71 198.60,353.05 198.95,353.07 199.30,352.63 199.65,351.50 200.00,350.63 200.35,348.84 200.70,346.85 201.05,344.36 201.40,341.92 201.75,339.72 202.10,337.51 202.45,336.48 202.80,336.67 203.15,337.52 203.50,340.06 203.85,342.63 204.20,345.07 204.55,347.22 204.90,349.07 205.25,350.72 205.60,351.76 205.95,352.42 206.30,353.11 206.65,353.37 207.00,353.32 207.35,353.37 207.70,353.61 208.05,353.77 208.40,353.78 208.75,353.78 209.10,353.94 209.45,353.88 209.80,353.71 210.15,353.89 210.50,353.86 210.85,353.68 211.20,353.59 211.55,353.71 211.90,353.90 212.25,353.91 212.60,353.65 212.95,353.77 213.30,353.49 213.65,353.76 214.00,353.64 214.35,353.78 214.70,353.78 215.05,353.26 215.40,353.70 215.75,353.16 216.10,353.51 216.45,353.41 216.80,352.86 217.15,352.78 217.50,352.58 217.85,352.89 218.20,352.70 218.55,352.73 218.90,352.58 219.25,352.30 219.60,352.53 219.95,352.33 220.30,352.39 220.65,352.53 221.00,352.80 221.35,352.70 221.70,352.96 222.05,353.09 222.40,353.34 222.75,353.27 223.10,353.34 223.45,353.51 223.80,353.53 224.15,353.75 224.50,353.45 224.85,353.54 225.20,353.50 225.55,353.73 225.90,354.00 226.25,353.88 226.60,353.91 226.95,354.09 227.30,354.03 227.65,353.74 228.00,353.70 228.35,353.88 228.70,353.71 229.05,353.92 229.40,353.63 229.75,353.81 230.10,354.00 230.45,353.73 230.80,353.68 231.15,354.01 231.50,353.70 231.85,354.10 232.20,353.94 232.55,354.10 232.90,353.90 233.25,353.87 233.60,353.74 233.95,353.63 234.30,354.13 234.65,353.72 235.00,353.65 235.35,354.12 235.70,353.90 236.05,353.93 236.40,354.12 236.75,354.01 237.10,353.75 237.45,353.76 237.80,353.97 238.15,353.99 238.50,353.73 238.85,353.74 239.20,353.89 239.55,353.64 239.90,354.06 240.25,353.97 240.60,353.69 240.95,353.93 241.30,353.94 241.65,353.66 242.00,353.85 242.35,354.05 242.70,353.86 243.05,354.01 243.40,353.74 243.75,354.17 244.10,353.98 244.45,353.92 244.80,353.61 245.15,353.81 245.50,353.61 245.85,353.85 246.20,353.71 246.55,353.75 246.90,353.78 247.25,353.69 247.60,353.77 247.95,353.89 248.30,353.68 248.65,353.92 249.00,354.14 249.35,354.01 249.70,354.14 250.05,353.67 250.40,353.98 250.75,353.74 251.10,354.13 251.45,353.89 251.80,354.01 252.15,354.04 252.50,353.68 252.85,353.66 253.20,354.06 253.55,354.07 253.90,353.85 254.25,353.62 254.60,353.62 254.95,354.06 255.30,354.00 255.65,353.82 256.00,353.99 256.35,354.06 256.70,353.61 257.05,354.03 257.40,354.16 257.75,354.09 258.10,354.10 258.45,353.85 258.80,353.95 259.15,353.67 259.50,354.05 259.85,353.98 260.20,353.83 260.55,353.63 260.90,353.71 261.25,353.83 261.60,354.12 261.95,353.87 262.30,354.09 262.65,353.71 263.00,353.75 263.35,353.74 263.70,353.76 264.05,354.05 264.40,353.81 264.75,353.78 265.10,353.98 265.45,353.85 265.80,354.09 266.15,353.99 266.50,354.06 266.85,353.84 267.20,353.82 267.55,353.85 267.90,354.15 268.25,354.12 268.60,353.91 268.95,353.87 269.30,353.63 269.65,354.07 270.00,353.93 270.35,353.82 270.70,353.68 271.05,353.85 271.40,353.98 271.75,353.73 272.10,353.73 272.45,353.86 272.80,353.85 273.15,353.58 273.50,353.60 273.85,353.77 274.20,353.96 274.55,353.77 274.90,353.56 275.25,353.68 275.60,353.65 275.95,353.96 276.30,353.65 276.65,354.07 277.00,353.67 277.35,353.59 277.70,353.48 278.05,353.72 278.40,353.70 278.75,353.78 279.10,353.62 279.45,353.40 279.80,352.88 280.15,353.02 280.50,352.14 280.85,351.46 281.20,350.57 281.55,349.75 281.90,348.60 282.25,347.16 282.60,345.90 282.95,344.72 283.30,344.35 283.65,344.22 284.00,344.24 284.35,345.12 284.70,346.52 285.05,347.74 285.40,348.67 285.75,350.29 286.10,351.14 286.45,351.94 286.80,352.34 287.15,353.16 287.50,353.18 287.85,353.50 288.20,353.83 288.55,353.83 288.90,353.52 289.25,353.53 289.60,353.60 289.95,353.56 290.30,354.01 290.65,353.83 291.00,353.80 291.35,353.74 291.70,353.82 292.05,353.79 292.40,353.96 292.75,353.79 293.10,354.05 293.45,354.04 293.80,354.06 294.15,353.99 294.50,353.67 294.85,353.81 295.20,354.05" stroke="#23913f" stroke-width="1.8"/>
<polyline points="28.50,425.06 28.85,425.18 29.20,424.97 29.55,425.31 29.90,425.03 30.25,425.04 30.60,425.29 30.95,424.88 31.30,424.82 31.65,425.05 32.00,425.05 32.35,424.85 32.70,425.00 33.05,425.20 33.40,425.25 33.75,425.25 34.10,425.16 34.45,424.73 34.80,424.85 35.15,424.84 35.50,424.52 35.85,424.79 36.20,424.25 36.55,424.12 36.90,423.39 37.25,422.16 37.60,420.78 37.95,418.95 38.30,416.49 38.65,413.76 39.00,411.30 39.35,408.79 39.70,407.14 40.05,406.96 40.40,407.79 40.75,409.52 41.10,411.83 41.45,414.94 41.80,417.22 42.15,419.33 42.50,421.45 42.85,422.84 43.20,423.37 43.55,424.12 43.90,424.67 44.25,424.68 44.60,424.71 44.95,424.68 45.30,424.65 45.65,425.17 46.00,425.15 46.35,424.82 46.70,425.09 47.05,424.85 47.40,425.17 47.75,424.97 48.10,425.16 48.45,425.07 48.80,424.82 49.15,425.10 49.50,425.15 49.85,424.81 50.20,424.80 50.55,424.93 50.90,425.18 51.25,425.31 51.60,425.00 51.95,425.21 52.30,425.10 52.65,424.81 53.00,424.82 53.35,424.92 53.70,424.52 54.05,424.25 54.40,423.97 54.75,423.12 55.10,422.62 55.45,421.85 55.80,420.99 56.15,420.13 56.50,419.03 56.85,418.44 57.20,418.01 57.55,417.79 57.90,418.53 58.25,419.30 58.60,419.94 58.95,420.78 59.30,421.66 59.65,422.52 60.00,423.17 60.35,423.67 60.70,424.47 61.05,424.44 61.40,424.56 61.75,424.95 62.10,424.67 62.45,424.93 62.80,425.08 63.15,425.25 63.50,424.97 63.85,424.84 64.20,425.37 64.55,424.84 64.90,425.07 65.25,425.13 65.60,425.40 65.95,425.05 66.30,424.99 66.65,425.02 67.00,425.07 67.35,424.95 67.70,425.37 68.05,425.16 68.40,425.28 68.75,425.03 69.10,425.25 69.45,425.39 69.80,425.01 70.15,425.42 70.50,425.04 70.85,425.28 71.20,425.41 71.55,425.14 71.90,425.41 72.25,425.11 72.60,425.13 72.95,425.40 73.30,425.23 73.65,424.92 74.00,424.97 74.35,425.19 74.70,425.08 75.05,424.92 75.40,425.35 75.75,425.07 76.10,425.40 76.45,425.10 76.80,424.99 77.15,425.13 77.50,425.36 77.85,425.40 78.20,425.21 78.55,425.03 78.90,425.19 79.25,425.04 79.60,425.10 79.95,424.90 80.30,424.90 80.65,425.42 81.00,425.32 81.35,425.03 81.70,425.24 82.05,424.92 82.40,425.36 82.75,425.24 83.10,425.30 83.45,425.13 83.80,425.14 84.15,425.35 84.50,425.07 84.85,424.94 85.20,424.96 85.55,425.41 85.90,425.05 86.25,424.93 86.60,425.21 86.95,424.96 87.30,425.13 87.65,425.32 88.00,425.02 88.35,425.13 88.70,425.41 89.05,425.37 89.40,425.37 89.75,424.91 90.10,425.43 90.45,425.20 90.80,424.97 91.15,425.44 91.50,424.95 91.85,425.43 92.20,424.90 92.55,424.93 92.90,425.15 93.25,425.22 93.60,425.21 93.95,425.34 94.30,424.94 94.65,425.28 95.00,425.05 95.35,425.41 95.70,425.22 96.05,425.26 96.40,424.94 96.75,425.38 97.10,425.02 97.45,424.98 97.80,425.09 98.15,425.29 98.50,425.03 98.85,425.11 99.20,425.17 99.55,424.96 99.90,424.86 100.25,424.98 100.60,425.07 100.95,424.92 101.30,424.47 101.65,424.47 102.00,424.25 102.35,423.83 102.70,423.22 103.05,422.92 103.40,423.41 103.75,423.40 104.10,423.44 104.45,424.03 104.80,424.27 105.15,424.58 105.50,424.64 105.85,424.96 106.20,424.89 106.55,424.94 106.90,424.94 107.25,425.18 107.60,425.25 107.95,424.93 108.30,424.81 108.65,424.90 109.00,425.18 109.35,424.95 109.70,424.75 110.05,425.21 110.40,424.97 110.75,424.76 111.10,425.12 111.45,424.98 111.80,425.15 112.15,425.13 112.50,425.10 112.85,425.12 113.20,424.81 113.55,425.03 113.90,424.82 114.25,424.87 114.60,424.59 114.95,424.77 115.30,424.41 115.65,424.79 116.00,424.33 116.35,424.46 116.70,424.49 117.05,424.30 117.40,424.03 117.75,423.30 118.10,422.21 118.45,421.16 118.80,418.10 119.15,414.14 119.50,407.57 119.85,399.04 120.20,388.58 120.55,376.97 120.90,365.98 121.25,357.45 121.60,354.00 121.95,357.42 122.30,365.59 122.65,377.15 123.00,388.37 123.35,399.00 123.70,407.67 124.05,413.84 124.40,418.42 124.75,421.04 125.10,422.36 125.45,423.29 125.80,423.96 126.15,424.12 126.50,424.36 126.85,424.32 127.20,424.54 127.55,424.63 127.90,424.86 128.25,424.61 128.60,424.90 128.95,424.61 129.30,424.69 129.65,424.69 130.00,425.10 130.35,424.65 130.70,424.78 131.05,424.90 131.40,425.04 131.75,425.02 132.10,424.72 132.45,424.87 132.80,425.04 133.15,424.70 133.50,424.65 133.85,424.99 134.20,424.45 134.55,424.39 134.90,424.32 135.25,424.51 135.60,424.04 135.95,423.86 136.30,423.67 136.65,423.60 137.00,422.87 137.35,422.72 137.70,422.64 138.05,422.64 138.40,422.31 138.75,422.53 139.10,422.74 139.45,422.66 139.80,423.06 140.15,423.17 140.50,423.92 140.85,423.67 141.20,423.99 141.55,424.45 141.90,424.41 142.25,424.75 142.60,424.73 142.95,425.18 143.30,425.01 143.65,424.94 144.00,424.87 144.35,425.06 144.70,425.25 145.05,425.23 145.40,425.23 145.75,425.13 146.10,425.37 146.45,425.07 146.80,425.16 147.15,425.39 147.50,425.30 147.85,425.13 148.20,425.31 148.55,425.30 148.90,425.03 149.25,425.09 149.60,425.30 149.95,425.08 150.30,425.07 150.65,425.18 151.00,424.92 151.35,425.02 151.70,425.43 152.05,425.02 152.40,425.33 152.75,424.89 153.10,425.06 153.45,425.17 153.80,425.06 154.15,425.41 154.50,425.42 154.85,425.05 155.20,424.97 155.55,425.40 155.90,425.33 156.25,425.18 156.60,424.92 156.95,424.90 157.30,425.28 157.65,425.28 158.00,425.15 158.35,425.08 158.70,425.05 159.05,425.10 159.40,425.13 159.75,425.24 160.10,425.13 160.45,425.08 160.80,425.02 161.15,425.27 161.50,425.42 161.85,425.00 162.20,425.33 162.55,425.26 162.90,425.03 163.25,424.97 163.60,425.37 163.95,424.98 164.30,424.96 164.65,424.95 165.00,425.35 165.35,425.11 165.70,424.90 166.05,425.06 166.40,425.19 166.75,425.17 167.10,424.98 167.45,425.37 167.80,425.29 168.15,425.05 168.50,425.08 168.85,425.04 169.20,424.91 169.55,425.24 169.90,425.05 170.25,425.27 170.60,425.37 170.95,425.08 171.30,425.06 171.65,425.10 172.00,425.17 172.35,424.93 172.70,425.12 173.05,425.08 173.40,424.96 173.75,425.37 174.10,425.29 174.45,425.17 174.80,424.94 175.15,425.31 175.50,425.11 175.85,425.39 176.20,425.26 176.55,425.03 176.90,425.32 177.25,425.23 177.60,425.10 177.95,425.34 178.30,425.08 178.65,424.98 179.00,424.92 179.35,425.24 179.70,425.05 180.05,424.99 180.40,424.92 180.75,425.33 181.10,425.05 181.45,425.38 181.80,425.39 182.15,425.35 182.50,425.02 182.85,425.42 183.20,425.24 183.55,425.37 183.90,425.40 184.25,425.07 184.60,425.10 184.95,425.39 185.30,425.05 185.65,424.94 186.00,424.91 186.35,425.20 186.70,425.06 187.05,425.41 187.40,424.89 187.75,425.10 188.10,425.28 188.45,425.22 188.80,425.34 189.15,425.24 189.50,425.36 189.85,425.41 190.20,425.35 190.55,425.20 190.90,425.09 191.25,425.16 191.60,424.98 191.95,425.00 192.30,425.14 192.65,425.09 193.00,425.06 193.35,424.88 193.70,425.38 194.05,425.01 194.40,425.08 194.75,425.00 195.10,425.11 195.45,425.22 195.80,425.30 196.15,425.09 196.50,425.26 196.85,424.92 197.20,424.95 197.55,424.83 197.90,425.12 198.25,424.55 198.60,424.43 198.95,424.43 199.30,423.66 199.65,422.81 200.00,421.87 200.35,420.40 200.70,418.44 201.05,415.99 201.40,413.52 201.75,411.03 202.10,408.95 202.45,408.01 202.80,407.95 203.15,409.21 203.50,411.72 203.85,414.19 204.20,416.42 204.55,418.78 204.90,420.44 205.25,421.85 205.60,423.18 205.95,424.13 206.30,424.09 206.65,424.58 207.00,424.93 207.35,424.59 207.70,424.97 208.05,424.83 208.40,425.13 208.75,425.19 209.10,425.24 209.45,425.20 209.80,424.82 210.15,425.15 210.50,425.10 210.85,424.96 211.20,424.91 211.55,425.06 211.90,425.03 212.25,425.02 212.60,425.32 212.95,424.90 213.30,425.23 213.65,424.81 214.00,425.08 214.35,424.90 214.70,424.82 215.05,424.80 215.40,424.53 215.75,424.49 216.10,424.50 216.45,424.26 216.80,424.51 217.15,424.30 217.50,424.15 217.85,424.07 218.20,423.67 218.55,423.49 218.90,423.47 219.25,423.89 219.60,423.67 219.95,423.98 220.30,423.69 220.65,423.81 221.00,424.07 221.35,424.30 221.70,424.19 222.05,424.34 222.40,424.39 222.75,424.44 223.10,424.91 223.45,425.00 223.80,424.82 224.15,424.72 224.50,425.18 224.85,425.00 225.20,425.19 225.55,425.04 225.90,424.87 226.25,425.26 226.60,424.91 226.95,425.39 227.30,424.96 227.65,425.07 228.00,424.88 228.35,425.01 228.70,425.25 229.05,424.94 229.40,424.95 229.75,424.92 230.10,424.90 230.45,425.18 230.80,425.02 231.15,425.32 231.50,425.28 231.85,425.18 232.20,425.42 232.55,425.44 232.90,425.07 233.25,425.33 233.60,425.29 233.95,425.01 234.30,425.34 234.65,424.92 235.00,425.28 235.35,425.41 235.70,425.27 236.05,425.29 236.40,425.27 236.75,425.13 237.10,424.97 237.45,425.12 237.80,425.08 238.15,425.36 238.50,425.40 238.85,425.45 239.20,425.09 239.55,425.41 239.90,425.41 240.25,424.92 240.60,425.21 240.95,424.96 241.30,424.95 241.65,425.16 242.00,425.30 242.35,425.01 242.70,425.09 243.05,425.18 243.40,425.21 243.75,424.98 244.10,425.01 244.45,424.92 244.80,425.09 245.15,425.46 245.50,425.01 245.85,425.33 246.20,425.27 246.55,425.39 246.90,425.36 247.25,424.94 247.60,425.09 247.95,425.38 248.30,425.27 248.65,425.39 249.00,424.93 249.35,425.38 249.70,425.13 250.05,425.35 250.40,425.24 250.75,425.11 251.10,425.20 251.45,424.92 251.80,425.43 252.15,425.40 252.50,425.27 252.85,425.27 253.20,425.32 253.55,425.15 253.90,425.04 254.25,425.27 254.60,425.46 254.95,425.39 255.30,425.36 255.65,425.00 256.00,425.08 256.35,425.07 256.70,425.22 257.05,425.41 257.40,425.26 257.75,425.23 258.10,425.15 258.45,425.01 258.80,425.06 259.15,425.46 259.50,425.42 259.85,425.27 260.20,425.29 260.55,425.03 260.90,424.92 261.25,424.92 261.60,424.92 261.95,425.02 262.30,425.45 262.65,425.23 263.00,425.03 263.35,424.96 263.70,424.91 264.05,424.91 264.40,424.98 264.75,425.09 265.10,424.99 265.45,425.03 265.80,425.25 266.15,424.97 266.50,424.98 266.85,425.33 267.20,425.06 267.55,425.25 267.90,425.06 268.25,425.29 268.60,424.90 268.95,425.05 269.30,425.38 269.65,425.06 270.00,425.25 270.35,425.01 270.70,424.95 271.05,425.12 271.40,425.14 271.75,424.90 272.10,425.18 272.45,425.12 272.80,425.08 273.15,425.30 273.50,425.37 273.85,425.10 274.20,425.04 274.55,425.29 274.90,425.28 275.25,425.14 275.60,425.19 275.95,425.03 276.30,425.24 276.65,425.15 277.00,425.29 277.35,424.97 277.70,424.82 278.05,425.24 278.40,425.05 278.75,425.11 279.10,424.99 279.45,424.86 279.80,424.40 280.15,424.36 280.50,423.75 280.85,423.00 281.20,422.06 281.55,421.04 281.90,420.00 282.25,418.87 282.60,417.73 282.95,416.91 283.30,416.45 283.65,416.04 284.00,416.42 284.35,416.82 284.70,418.25 285.05,419.33 285.40,420.63 285.75,421.47 286.10,422.57 286.45,423.26 286.80,423.99 287.15,424.22 287.50,424.74 287.85,424.96 288.20,424.90 288.55,424.96 288.90,425.13 289.25,425.06 289.60,425.33 289.95,425.33 290.30,425.10 290.65,425.21 291.00,424.89 291.35,425.35 291.70,425.20 292.05,424.87 292.40,424.86 292.75,425.34 293.10,425.30 293.45,425.22 293.80,425.10 294.15,425.01 294.50,425.15 294.85,425.39 295.20,425.24" stroke="#1f2a8c" stroke-width="1.8"/>
</g>
<rect x="28.5" y="19.4" width="267.0" height="421.0" fill="none" stroke="#555" stroke-width="1.2"/>
<line x1="39.18" y1="440.40" x2="39.18" y2="438.00" stroke="#3a3a3a" stroke-width="1.1" />
<line x1="39.18" y1="19.40" x2="39.18" y2="21.80" stroke="#3a3a3a" stroke-width="1.1" />
<line x1="49.86" y1="440.40" x2="49.86" y2="438.00" stroke="#3a3a3a" stroke-width="1.1" />
<line x1="49.86" y1="19.40" x2="49.86" y2="21.80" stroke="#3a3a3a" stroke-width="1.1" />
<line x1="60.54" y1="440.40" x2="60.54" y2="438.00" stroke="#3a3a3a" stroke-width="1.1" />
<line x1="60.54" y1="19.40" x2="60.54" y2="21.80" stroke="#3a3a3a" stroke-width="1.1" />
<line x1="71.22" y1="440.40" x2="71.22" y2="438.00" stroke="#3a3a3a" stroke-width="1.1" />
<line x1="71.22" y1="19.40" x2="71.22" y2="21.80" stroke="#3a3a3a" stroke-width="1.1" />
<line x1="81.90" y1="440.40" x2="81.90" y2="435.40" stroke="#3a3a3a" stroke-width="1.1" />
<line x1="81.90" y1="19.40" x2="81.90" y2="24.40" stroke="#3a3a3a" stroke-width="1.1" />
<line x1="92.58" y1="440.40" x2="92.58" y2="438.00" stroke="#3a3a3a" stroke-width="1.1" />
<line x1="92.58" y1="19.40" x2="92.58" y2="21.80" stroke="#3a3a3a" stroke-width="1.1" />
<line x1="103.26" y1="440.40" x2="103.26" y2="438.00" stroke="#3a3a3a" stroke-width="1.1" />
<line x1="103.26" y1="19.40" x2="103.26" y2="21.80" stroke="#3a3a3a" stroke-width="1.1" />
<line x1="113.94" y1="440.40" x2="113.94" y2="438.00" stroke="#3a3a3a" stroke-width="1.1" />
<line x1="113.94" y1="19.40" x2="113.94" y2="21.80" stroke="#3a3a3a" stroke-width="1.1" />
<line x1="124.62" y1="440.40" x2="124.62" y2="438.00" stroke="#3a3a3a" stroke-width="1.1" />
<line x1="124.62" y1="19.40" x2="124.62" y2="21.80" stroke="#3a3a3a" stroke-width="1.1" />
<line x1="135.30" y1="440.40" x2="135.30" y2="435.40" stroke="#3a3a3a" stroke-width="1.1" />
<line x1="135.30" y1="19.40" x2="135.30" y2="24.40" stroke="#3a3a3a" stroke-width="1.1" />
<line x1="145.98" y1="440.40" x2="145.98" y2="438.00" stroke="#3a3a3a" stroke-width="1.1" />
<line x1="145.98" y1="19.40" x2="145.98" y2="21.80" stroke="#3a3a3a" stroke-width="1.1" />
<line x1="156.66" y1="440.40" x2="156.66" y2="438.00" stroke="#3a3a3a" stroke-width="1.1" />
<line x1="156.66" y1="19.40" x2="156.66" y2="21.80" stroke="#3a3a3a" stroke-width="1.1" />
<line x1="167.34" y1="440.40" x2="167.34" y2="438.00" stroke="#3a3a3a" stroke-width="1.1" />
<line x1="167.34" y1="19.40" x2="167.34" y2="21.80" stroke="#3a3a3a" stroke-width="1.1" />
<line x1="178.02" y1="440.40" x2="178.02" y2="438.00" stroke="#3a3a3a" stroke-width="1.1" />
<line x1="178.02" y1="19.40" x2="178.02" y2="21.80" stroke="#3a3a3a" stroke-width="1.1" />
<line x1="188.70" y1="440.40" x2="188.70" y2="435.40" stroke="#3a3a3a" stroke-width="1.1" />
<line x1="188.70" y1="19.40" x2="188.70" y2="24.40" stroke="#3a3a3a" stroke-width="1.1" />
<line x1="199.38" y1="440.40" x2="199.38" y2="438.00" stroke="#3a3a3a" stroke-width="1.1" />
<line x1="199.38" y1="19.40" x2="199.38" y2="21.80" stroke="#3a3a3a" stroke-width="1.1" />
<line x1="210.06" y1="440.40" x2="210.06" y2="438.00" stroke="#3a3a3a" stroke-width="1.1" />
<line x1="210.06" y1="19.40" x2="210.06" y2="21.80" stroke="#3a3a3a" stroke-width="1.1" />
<line x1="220.74" y1="440.40" x2="220.74" y2="438.00" stroke="#3a3a3a" stroke-width="1.1" />
<line x1="220.74" y1="19.40" x2="220.74" y2="21.80" stroke="#3a3a3a" stroke-width="1.1" />
<line x1="231.42" y1="440.40" x2="231.42" y2="438.00" stroke="#3a3a3a" stroke-width="1.1" />
<line x1="231.42" y1="19.40" x2="231.42" y2="21.80" stroke="#3a3a3a" stroke-width="1.1" />
<line x1="242.10" y1="440.40" x2="242.10" y2="435.40" stroke="#3a3a3a" stroke-width="1.1" />
<line x1="242.10" y1="19.40" x2="242.10" y2="24.40" stroke="#3a3a3a" stroke-width="1.1" />
<line x1="252.78" y1="440.40" x2="252.78" y2="438.00" stroke="#3a3a3a" stroke-width="1.1" />
<line x1="252.78" y1="19.40" x2="252.78" y2="21.80" stroke="#3a3a3a" stroke-width="1.1" />
<line x1="263.46" y1="440.40" x2="263.46" y2="438.00" stroke="#3a3a3a" stroke-width="1.1" />
<line x1="263.46" y1="19.40" x2="263.46" y2="21.80" stroke="#3a3a3a" stroke-width="1.1" />
<line x1="274.14" y1="440.40" x2="274.14" y2="438.00" stroke="#3a3a3a" stroke-width="1.1" />
<line x1="274.14" y1="19.40" x2="274.14" y2="21.80" stroke="#3a3a3a" stroke-width="1.1" />
<line x1="284.82" y1="440.40" x2="284.82" y2="438.00" stroke="#3a3a3a" stroke-width="1.1" />
<line x1="284.82" y1="19.40" x2="284.82" y2="21.80" stroke="#3a3a3a" stroke-width="1.1" />
<text x="28.50" y="458.80" font-size="16" fill="#111" font-weight="normal" font-style="normal" text-anchor="middle" >400</text>
<text x="81.90" y="458.80" font-size="16" fill="#111" font-weight="normal" font-style="normal" text-anchor="middle" >300</text>
<text x="135.30" y="458.80" font-size="16" fill="#111" font-weight="normal" font-style="normal" text-anchor="middle" >200</text>
<text x="188.70" y="458.80" font-size="16" fill="#111" font-weight="normal" font-style="normal" text-anchor="middle" >100</text>
<text x="242.10" y="458.80" font-size="16" fill="#111" font-weight="normal" font-style="normal" text-anchor="middle" >0</text>
<text x="295.50" y="458.80" font-size="16" fill="#111" font-weight="normal" font-style="normal" text-anchor="middle" >-100</text>
<text x="154.70" y="486.40" font-size="18.7" fill="#111" font-weight="normal" font-style="normal" text-anchor="middle" >(<tspan dy="-6.70" font-size="12.90">133</tspan><tspan dy="6.70">&#8203;</tspan>Cs)&#948;<tspan dy="3.90" font-size="12.90">MAS</tspan><tspan dy="-3.90">&#8203;</tspan> (ppm)</text>
<text x="0.00" y="0.00" font-size="19.4" fill="#111" font-weight="normal" font-style="normal" text-anchor="middle" transform="translate(15.4,203) rotate(-90)">Intensity (arb. units)</text>
<text x="-1.00" y="16.90" font-size="23" fill="#000" font-weight="bold" font-style="normal" text-anchor="start" >a</text>
<text x="38.50" y="106.60" font-size="15.5" fill="#f5102e" font-weight="normal" font-style="normal" text-anchor="start" >20 min</text>
<text x="38.50" y="183.50" font-size="15.5" fill="#e9b31f" font-weight="normal" font-style="normal" text-anchor="start" >90 min</text>
<text x="39.30" y="253.20" font-size="15.5" fill="#a2b028" font-weight="normal" font-style="normal" text-anchor="start" >180 min</text>
<text x="38.60" y="322.80" font-size="15.5" fill="#23913f" font-weight="normal" font-style="normal" text-anchor="start" >360 min</text>
<text x="38.30" y="398.00" font-size="15.5" fill="#1f2a8c" font-weight="normal" font-style="normal" text-anchor="start" >2880 min</text>
<path d="M217.2,39.1 L217.2,30.5 Q217.2,24.5 223.2,24.5 L249.89999999999998,24.5 L249.89999999999998,33.1 Q249.89999999999998,39.1 243.89999999999998,39.1 Z" fill="#fde3a0" opacity="0.85"/>
<path d="M217.2,56.300000000000004 L217.2,47.7 Q217.2,41.7 223.2,41.7 L287.6,41.7 L287.6,50.300000000000004 Q287.6,56.300000000000004 281.6,56.300000000000004 Z" fill="#cfcfcf" opacity="0.85"/>
<path d="M217.2,73.1 L217.2,64.5 Q217.2,58.5 223.2,58.5 L285.4,58.5 L285.4,67.1 Q285.4,73.1 279.4,73.1 Z" fill="#fcc9cd" opacity="0.85"/>
<text x="221.80" y="35.90" font-size="11" fill="#8c7a1c" font-weight="normal" font-style="normal" text-anchor="start" >CsBr</text>
<text x="221.80" y="53.10" font-size="11" fill="#222" font-weight="normal" font-style="normal" text-anchor="start" >0D Cs<tspan dy="3.08" font-size="6.82">4</tspan><tspan dy="-3.08">&#8203;</tspan>PbBr<tspan dy="3.08" font-size="6.82">6</tspan><tspan dy="-3.08">&#8203;</tspan></text>
<text x="221.80" y="69.90" font-size="11" fill="#d0202e" font-weight="normal" font-style="normal" text-anchor="start" >3D CsPbBr<tspan dy="3.08" font-size="6.82">3</tspan><tspan dy="-3.08">&#8203;</tspan></text>
<rect x="145.80" y="93.40" width="146.90" height="77.80" fill="#fff" />
<g clip-path="url(#clipI)">
<line x1="168.99" y1="93.40" x2="168.99" y2="171.20" stroke="#8a8a8a" stroke-width="0.8" stroke-dasharray="1.5,1.5"/>
<line x1="207.65" y1="93.40" x2="207.65" y2="171.20" stroke="#8a8a8a" stroke-width="0.8" stroke-dasharray="1.5,1.5"/>
<line x1="246.31" y1="93.40" x2="246.31" y2="171.20" stroke="#8a8a8a" stroke-width="0.8" stroke-dasharray="1.5,1.5"/>
<line x1="284.97" y1="93.40" x2="284.97" y2="171.20" stroke="#8a8a8a" stroke-width="0.8" stroke-dasharray="1.5,1.5"/>
<path d="M145.80,160.50 C146.83,160.00 150.30,158.38 152.00,157.50 C153.70,156.62 154.30,155.78 156.00,155.20 C157.70,154.62 160.20,153.78 162.20,154.00 C164.20,154.22 166.03,155.73 168.00,156.50 C169.97,157.27 172.33,158.22 174.00,158.60 C175.67,158.98 176.33,159.03 178.00,158.80 C179.67,158.57 182.00,158.08 184.00,157.20 C186.00,156.32 188.00,154.78 190.00,153.50 C192.00,152.22 194.22,150.52 196.00,149.50 C197.78,148.48 199.20,147.98 200.70,147.40 C202.20,146.82 203.68,146.48 205.00,146.00 C206.32,145.52 207.43,145.42 208.60,144.50 C209.77,143.58 210.77,142.92 212.00,140.50 C213.23,138.08 214.67,133.33 216.00,130.00 C217.33,126.67 218.42,123.45 220.00,120.50 C221.58,117.55 223.83,114.30 225.50,112.30 C227.17,110.30 228.42,109.72 230.00,108.50 C231.58,107.28 233.33,105.92 235.00,105.00 C236.67,104.08 238.50,103.08 240.00,103.00 C241.50,102.92 242.67,103.33 244.00,104.50 C245.33,105.67 246.67,107.25 248.00,110.00 C249.33,112.75 250.67,117.17 252.00,121.00 C253.33,124.83 254.83,129.92 256.00,133.00 C257.17,136.08 258.08,138.08 259.00,139.50 C259.92,140.92 260.67,141.42 261.50,141.50 C262.33,141.58 263.08,141.25 264.00,140.00 C264.92,138.75 266.00,136.50 267.00,134.00 C268.00,131.50 268.83,128.50 270.00,125.00 C271.17,121.50 272.67,117.00 274.00,113.00 C275.33,109.00 276.83,104.27 278.00,101.00 C279.17,97.73 280.50,94.67 281.00,93.40" fill="none" stroke="#f50a2c" stroke-width="2"/>
<path d="M145.80,163.50 C146.50,164.08 148.55,166.05 150.00,167.00 C151.45,167.95 153.00,169.10 154.50,169.20 C156.00,169.30 157.42,168.37 159.00,167.60 C160.58,166.83 162.17,165.33 164.00,164.60 C165.83,163.87 168.00,163.63 170.00,163.20 C172.00,162.77 174.00,162.37 176.00,162.00 C178.00,161.63 180.07,161.25 182.00,161.00 C183.93,160.75 185.43,160.75 187.60,160.50 C189.77,160.25 192.43,159.92 195.00,159.50 C197.57,159.08 200.33,158.32 203.00,158.00 C205.67,157.68 208.83,157.35 211.00,157.60 C213.17,157.85 214.50,158.68 216.00,159.50 C217.50,160.32 218.50,161.60 220.00,162.50 C221.50,163.40 223.50,164.82 225.00,164.90 C226.50,164.98 227.50,164.32 229.00,163.00 C230.50,161.68 232.17,159.17 234.00,157.00 C235.83,154.83 238.17,152.08 240.00,150.00 C241.83,147.92 243.50,146.17 245.00,144.50 C246.50,142.83 247.83,141.28 249.00,140.00 C250.17,138.72 251.00,138.30 252.00,136.80 C253.00,135.30 254.00,133.55 255.00,131.00 C256.00,128.45 257.00,125.25 258.00,121.50 C259.00,117.75 260.08,112.33 261.00,108.50 C261.92,104.67 262.80,101.02 263.50,98.50 C264.20,95.98 264.92,94.25 265.20,93.40" fill="none" stroke="#ecbd2a" stroke-width="2"/>
<rect x="222.60" y="93.40" width="26.90" height="77.80" fill="#9670c6" opacity="0.45"/>
<rect x="263.00" y="93.40" width="28.20" height="77.80" fill="#c8c8c8" opacity="0.62"/>
</g>
<rect x="145.8" y="93.4" width="146.89999999999998" height="77.79999999999998" fill="none" stroke="#3a3a3a" stroke-width="1"/>
<line x1="153.53" y1="171.20" x2="153.53" y2="169.60" stroke="#3a3a3a" stroke-width="0.9" />
<line x1="153.53" y1="93.40" x2="153.53" y2="95.00" stroke="#3a3a3a" stroke-width="0.9" />
<line x1="161.26" y1="171.20" x2="161.26" y2="169.60" stroke="#3a3a3a" stroke-width="0.9" />
<line x1="161.26" y1="93.40" x2="161.26" y2="95.00" stroke="#3a3a3a" stroke-width="0.9" />
<line x1="168.99" y1="171.20" x2="168.99" y2="168.20" stroke="#3a3a3a" stroke-width="0.9" />
<line x1="168.99" y1="93.40" x2="168.99" y2="96.40" stroke="#3a3a3a" stroke-width="0.9" />
<line x1="176.73" y1="171.20" x2="176.73" y2="169.60" stroke="#3a3a3a" stroke-width="0.9" />
<line x1="176.73" y1="93.40" x2="176.73" y2="95.00" stroke="#3a3a3a" stroke-width="0.9" />
<line x1="184.46" y1="171.20" x2="184.46" y2="169.60" stroke="#3a3a3a" stroke-width="0.9" />
<line x1="184.46" y1="93.40" x2="184.46" y2="95.00" stroke="#3a3a3a" stroke-width="0.9" />
<line x1="192.19" y1="171.20" x2="192.19" y2="169.60" stroke="#3a3a3a" stroke-width="0.9" />
<line x1="192.19" y1="93.40" x2="192.19" y2="95.00" stroke="#3a3a3a" stroke-width="0.9" />
<line x1="199.92" y1="171.20" x2="199.92" y2="169.60" stroke="#3a3a3a" stroke-width="0.9" />
<line x1="199.92" y1="93.40" x2="199.92" y2="95.00" stroke="#3a3a3a" stroke-width="0.9" />
<line x1="207.65" y1="171.20" x2="207.65" y2="168.20" stroke="#3a3a3a" stroke-width="0.9" />
<line x1="207.65" y1="93.40" x2="207.65" y2="96.40" stroke="#3a3a3a" stroke-width="0.9" />
<line x1="215.38" y1="171.20" x2="215.38" y2="169.60" stroke="#3a3a3a" stroke-width="0.9" />
<line x1="215.38" y1="93.40" x2="215.38" y2="95.00" stroke="#3a3a3a" stroke-width="0.9" />
<line x1="223.12" y1="171.20" x2="223.12" y2="169.60" stroke="#3a3a3a" stroke-width="0.9" />
<line x1="223.12" y1="93.40" x2="223.12" y2="95.00" stroke="#3a3a3a" stroke-width="0.9" />
<line x1="230.85" y1="171.20" x2="230.85" y2="169.60" stroke="#3a3a3a" stroke-width="0.9" />
<line x1="230.85" y1="93.40" x2="230.85" y2="95.00" stroke="#3a3a3a" stroke-width="0.9" />
<line x1="238.58" y1="171.20" x2="238.58" y2="169.60" stroke="#3a3a3a" stroke-width="0.9" />
<line x1="238.58" y1="93.40" x2="238.58" y2="95.00" stroke="#3a3a3a" stroke-width="0.9" />
<line x1="246.31" y1="171.20" x2="246.31" y2="168.20" stroke="#3a3a3a" stroke-width="0.9" />
<line x1="246.31" y1="93.40" x2="246.31" y2="96.40" stroke="#3a3a3a" stroke-width="0.9" />
<line x1="254.04" y1="171.20" x2="254.04" y2="169.60" stroke="#3a3a3a" stroke-width="0.9" />
<line x1="254.04" y1="93.40" x2="254.04" y2="95.00" stroke="#3a3a3a" stroke-width="0.9" />
<line x1="261.77" y1="171.20" x2="261.77" y2="169.60" stroke="#3a3a3a" stroke-width="0.9" />
<line x1="261.77" y1="93.40" x2="261.77" y2="95.00" stroke="#3a3a3a" stroke-width="0.9" />
<line x1="269.51" y1="171.20" x2="269.51" y2="169.60" stroke="#3a3a3a" stroke-width="0.9" />
<line x1="269.51" y1="93.40" x2="269.51" y2="95.00" stroke="#3a3a3a" stroke-width="0.9" />
<line x1="277.24" y1="171.20" x2="277.24" y2="169.60" stroke="#3a3a3a" stroke-width="0.9" />
<line x1="277.24" y1="93.40" x2="277.24" y2="95.00" stroke="#3a3a3a" stroke-width="0.9" />
<line x1="284.97" y1="171.20" x2="284.97" y2="168.20" stroke="#3a3a3a" stroke-width="0.9" />
<line x1="284.97" y1="93.40" x2="284.97" y2="96.40" stroke="#3a3a3a" stroke-width="0.9" />
<text x="168.99" y="183.20" font-size="11.3" fill="#111" font-weight="normal" font-style="normal" text-anchor="middle" >245</text>
<text x="207.65" y="183.20" font-size="11.3" fill="#111" font-weight="normal" font-style="normal" text-anchor="middle" >240</text>
<text x="246.31" y="183.20" font-size="11.3" fill="#111" font-weight="normal" font-style="normal" text-anchor="middle" >235</text>
<text x="284.97" y="183.20" font-size="11.3" fill="#111" font-weight="normal" font-style="normal" text-anchor="middle" >230</text>
<text x="245.60" y="197.60" font-size="10.2" fill="#111" font-weight="normal" font-style="normal" text-anchor="middle" >(<tspan dy="-4.00" font-size="7.34">133</tspan><tspan dy="4.00">&#8203;</tspan>Cs)&#948;<tspan dy="2.50" font-size="7.34">MAS</tspan><tspan dy="-2.50">&#8203;</tspan> (ppm)</text>
<path d="M148,114.4 L148,104.6 Q148,98.6 154,98.6 L214.5,98.6 L214.5,108.4 Q214.5,114.4 208.5,114.4 Z" fill="#c6b0e6"/>
<text x="151.50" y="110.80" font-size="11" fill="#6440a8" font-weight="normal" font-style="normal" text-anchor="start" >2D CsPb<tspan dy="3.08" font-size="6.82">2</tspan><tspan dy="-3.08">&#8203;</tspan>Br<tspan dy="3.08" font-size="6.82">5</tspan><tspan dy="-3.08">&#8203;</tspan></text>
<line x1="188.70" y1="19.40" x2="188.70" y2="440.40" stroke="#7a7a7a" stroke-width="0.9" stroke-dasharray="3.5,3"/>
<line x1="242.10" y1="19.40" x2="242.10" y2="440.40" stroke="#7a7a7a" stroke-width="0.9" stroke-dasharray="3.5,3"/>
<g fill="none" stroke="#111" stroke-width="1.1" stroke-dasharray="3,2.2">
<rect x="110.5" y="75.7" width="8.9" height="138.6"/>
<line x1="120.6" y1="75.7" x2="145.6" y2="93.4"/>
<line x1="121" y1="214.3" x2="145.7" y2="171.3"/>
</g>
<rect x="357.30" y="17.60" width="327.10" height="80.80" fill="#efefef" />
<defs>
<linearGradient id="glow" x1="0" x2="1" y1="0" y2="0">
<stop offset="0" stop-color="#8fd673" stop-opacity="0"/>
<stop offset="0.1" stop-color="#8fd673" stop-opacity="0.29"/>
<stop offset="0.18" stop-color="#8fd673" stop-opacity="0.54"/>
<stop offset="0.3" stop-color="#8fd673" stop-opacity="0.6"/>
<stop offset="0.42" stop-color="#8fd673" stop-opacity="0.73"/>
<stop offset="0.5" stop-color="#8fd673" stop-opacity="0.83"/>
<stop offset="0.6" stop-color="#8fd673" stop-opacity="0.83"/>
<stop offset="0.72" stop-color="#8fd673" stop-opacity="0.74"/>
<stop offset="0.83" stop-color="#8fd673" stop-opacity="0.63"/>
<stop offset="0.92" stop-color="#8fd673" stop-opacity="0.375"/>
<stop offset="1" stop-color="#8fd673" stop-opacity="0"/>
</linearGradient>
<linearGradient id="redarr" x1="0" x2="1" y1="0" y2="0">
<stop offset="0" stop-color="#c8141c"/>
<stop offset="1" stop-color="#e07c7c"/>
</linearGradient>
<linearGradient id="bluearr1" x1="0" x2="1" y1="0" y2="0">
<stop offset="0" stop-color="#6a9ee0"/>
<stop offset="1" stop-color="#0b49b8"/>
</linearGradient>
<linearGradient id="bluearr2" x1="0" x2="1" y1="0" y2="0">
<stop offset="0" stop-color="#0b47b5"/>
<stop offset="1" stop-color="#4a86d8"/>
</linearGradient>
<radialGradient id="gcirc">
<stop offset="0" stop-color="#66c443" stop-opacity="1"/>
<stop offset="0.62" stop-color="#6cc74b" stop-opacity="0.95"/>
<stop offset="0.8" stop-color="#80cf62" stop-opacity="0.6"/>
<stop offset="1" stop-color="#a6de90" stop-opacity="0"/>
</radialGradient>
<radialGradient id="pglow">
<stop offset="0" stop-color="#c9a3cf" stop-opacity="0.85"/>
<stop offset="0.55" stop-color="#d6bcda" stop-opacity="0.6"/>
<stop offset="1" stop-color="#eadcee" stop-opacity="0"/>
</radialGradient>
<linearGradient id="oct1" x1="0" x2="1" y1="0" y2="1">
<stop offset="0" stop-color="#5f9fb8"/>
<stop offset="1" stop-color="#8cc4da"/>
</linearGradient>
</defs>
<rect x="500.50" y="17.60" width="100.00" height="423.30" fill="url(#glow)" />
<rect x="357.3" y="17.6" width="327.09999999999997" height="80.80000000000001" fill="none" stroke="#9a9a9a" stroke-width="1.1"/>
<line x1="399.60" y1="6.70" x2="357.60" y2="6.70" stroke="#c8141c" stroke-width="1.4" />
<polyline points="362.60,3.50 357.60,6.70 362.60,9.90" fill="none" stroke="#c8141c" stroke-width="1.4" stroke-linejoin="miter"/>
<line x1="468.00" y1="6.70" x2="510.30" y2="6.70" stroke="#c8141c" stroke-width="1.4" />
<polyline points="505.30,3.50 510.30,6.70 505.30,9.90" fill="none" stroke="#c8141c" stroke-width="1.4" stroke-linejoin="miter"/>
<line x1="559.30" y1="6.70" x2="511.80" y2="6.70" stroke="#1c5cc4" stroke-width="1.4" />
<polyline points="516.80,3.50 511.80,6.70 516.80,9.90" fill="none" stroke="#1c5cc4" stroke-width="1.4" stroke-linejoin="miter"/>
<line x1="635.60" y1="6.70" x2="683.30" y2="6.70" stroke="#1c5cc4" stroke-width="1.4" />
<polyline points="678.30,3.50 683.30,6.70 678.30,9.90" fill="none" stroke="#1c5cc4" stroke-width="1.4" stroke-linejoin="miter"/>
<text x="435.20" y="11.90" font-size="15" fill="#c8141c" font-weight="bold" font-style="normal" text-anchor="middle" >Stage 1</text>
<text x="596.70" y="11.90" font-size="15" fill="#1c5cc4" font-weight="bold" font-style="normal" text-anchor="middle" >Stage 2</text>
<text x="341.50" y="36.90" font-size="13" fill="#c8141c" font-weight="normal" font-style="normal" text-anchor="middle" >Path</text>
<text x="341.50" y="52.70" font-size="13" fill="#c8141c" font-weight="normal" font-style="normal" text-anchor="middle" >A</text>
<text x="341.50" y="74.90" font-size="13" fill="#1c5cc4" font-weight="normal" font-style="normal" text-anchor="middle" >Path</text>
<text x="341.50" y="91.00" font-size="13" fill="#1c5cc4" font-weight="normal" font-style="normal" text-anchor="middle" >B</text>
<path d="M358.6,24.7 L492,30 L492,20.4 L508.7,39.2 L492,57.7 L492,51.2 L358.6,53.6 Z" fill="url(#redarr)"/>
<polyline points="493.2,18.4 510.8,39.2 493.2,59.8" fill="none" stroke="#c8141c" stroke-width="1.2" stroke-dasharray="2.5,1.8"/>
<text x="360.30" y="43.30" font-size="11.3" fill="#fff" font-weight="normal" font-style="normal" text-anchor="start" >4CsBr + PbBr<tspan dy="3.16" font-size="7.01">2</tspan><tspan dy="-3.16">&#8203;</tspan></text>
<line x1="438.10" y1="40.40" x2="448.60" y2="40.40" stroke="#fff" stroke-width="0.9" />
<path d="M450.1,40.4 L446.5,38.3 L446.5,42.5 Z" fill="#fff"/>
<text x="453.30" y="43.30" font-size="11.3" fill="#fff" font-weight="normal" font-style="normal" text-anchor="start" >Cs<tspan dy="3.16" font-size="7.01">4</tspan><tspan dy="-3.16">&#8203;</tspan>PbBr<tspan dy="3.16" font-size="7.01">6</tspan><tspan dy="-3.16">&#8203;</tspan></text>
<rect x="512.90" y="23.30" width="109.00" height="35.40" fill="#fff" opacity="0.72"/>
<text x="516.00" y="37.70" font-size="13" fill="#c8141c" font-weight="normal" font-style="normal" text-anchor="start" >Full consumption</text>
<text x="516.00" y="51.60" font-size="13" fill="#c8141c" font-weight="normal" font-style="normal" text-anchor="start" >of PbBr<tspan dy="3.64" font-size="8.06">2</tspan><tspan dy="-3.64">&#8203;</tspan></text>
<path d="M358.6,70.5 L491.8,66.2 L491.8,60.9 L509.1,78.2 L491.8,96.3 L491.8,90.3 L358.6,86.6 Z" fill="url(#bluearr1)"/>
<polyline points="493.2,58.6 511.8,78.2 493.2,98.6" fill="none" stroke="#fff" stroke-width="1.3"/>
<polyline points="494.4,57.6 513.6,78.2 494.4,99.6" fill="none" stroke="#1a4aa0" stroke-width="1"/>
<text x="367.50" y="82.50" font-size="11.5" fill="#fff" font-weight="normal" font-style="normal" text-anchor="start" >CsBr + PbBr<tspan dy="3.22" font-size="7.13">2</tspan><tspan dy="-3.22">&#8203;</tspan></text>
<line x1="440.50" y1="79.60" x2="451.00" y2="79.60" stroke="#fff" stroke-width="0.9" />
<path d="M452.5,79.6 L448.9,77.5 L448.9,81.69999999999999 Z" fill="#fff"/>
<text x="455.00" y="82.50" font-size="11.5" fill="#fff" font-weight="normal" font-style="normal" text-anchor="start" >CsPbBr<tspan dy="3.22" font-size="7.13">3</tspan><tspan dy="-3.22">&#8203;</tspan></text>
<path d="M511.6,63.2 L662.6,65.3 L662.6,60 L683.4,77.9 L662.6,95.5 L662.6,89.6 L511.6,91.6 Z" fill="url(#bluearr2)"/>
<text x="516.00" y="81.80" font-size="11.5" fill="#fff" font-weight="normal" font-style="normal" text-anchor="start" >CsPbBr<tspan dy="3.22" font-size="7.13">3</tspan><tspan dy="-3.22">&#8203;</tspan> + 3CsBr</text>
<line x1="607.50" y1="78.90" x2="617.00" y2="78.90" stroke="#fff" stroke-width="0.9" />
<path d="M618.5,78.9 L614.9,76.80000000000001 L614.9,81.0 Z" fill="#fff"/>
<text x="621.90" y="81.80" font-size="11.5" fill="#fff" font-weight="normal" font-style="normal" text-anchor="start" >Cs<tspan dy="3.22" font-size="7.13">4</tspan><tspan dy="-3.22">&#8203;</tspan>PbBr<tspan dy="3.22" font-size="7.13">6</tspan><tspan dy="-3.22">&#8203;</tspan></text>
<rect x="357.3" y="98.4" width="327.09999999999997" height="342.5" fill="none" stroke="#555" stroke-width="1.2"/>
<line x1="357.30" y1="411.90" x2="361.80" y2="411.90" stroke="#555" stroke-width="1.1" />
<line x1="684.40" y1="411.90" x2="679.90" y2="411.90" stroke="#555" stroke-width="1.1" />
<line x1="357.30" y1="383.43" x2="359.90" y2="383.43" stroke="#555" stroke-width="1.1" />
<line x1="684.40" y1="383.43" x2="681.80" y2="383.43" stroke="#555" stroke-width="1.1" />
<line x1="357.30" y1="354.96" x2="361.80" y2="354.96" stroke="#555" stroke-width="1.1" />
<line x1="684.40" y1="354.96" x2="679.90" y2="354.96" stroke="#555" stroke-width="1.1" />
<line x1="357.30" y1="326.49" x2="359.90" y2="326.49" stroke="#555" stroke-width="1.1" />
<line x1="684.40" y1="326.49" x2="681.80" y2="326.49" stroke="#555" stroke-width="1.1" />
<line x1="357.30" y1="298.02" x2="361.80" y2="298.02" stroke="#555" stroke-width="1.1" />
<line x1="684.40" y1="298.02" x2="679.90" y2="298.02" stroke="#555" stroke-width="1.1" />
<line x1="357.30" y1="269.55" x2="359.90" y2="269.55" stroke="#555" stroke-width="1.1" />
<line x1="684.40" y1="269.55" x2="681.80" y2="269.55" stroke="#555" stroke-width="1.1" />
<line x1="357.30" y1="241.08" x2="361.80" y2="241.08" stroke="#555" stroke-width="1.1" />
<line x1="684.40" y1="241.08" x2="679.90" y2="241.08" stroke="#555" stroke-width="1.1" />
<line x1="357.30" y1="212.61" x2="359.90" y2="212.61" stroke="#555" stroke-width="1.1" />
<line x1="684.40" y1="212.61" x2="681.80" y2="212.61" stroke="#555" stroke-width="1.1" />
<line x1="357.30" y1="184.14" x2="361.80" y2="184.14" stroke="#555" stroke-width="1.1" />
<line x1="684.40" y1="184.14" x2="679.90" y2="184.14" stroke="#555" stroke-width="1.1" />
<line x1="357.30" y1="155.67" x2="359.90" y2="155.67" stroke="#555" stroke-width="1.1" />
<line x1="684.40" y1="155.67" x2="681.80" y2="155.67" stroke="#555" stroke-width="1.1" />
<line x1="357.30" y1="127.20" x2="361.80" y2="127.20" stroke="#555" stroke-width="1.1" />
<line x1="684.40" y1="127.20" x2="679.90" y2="127.20" stroke="#555" stroke-width="1.1" />
<text x="351.60" y="417.00" font-size="15" fill="#111" font-weight="normal" font-style="normal" text-anchor="end" >0.0</text>
<text x="351.60" y="360.06" font-size="15" fill="#111" font-weight="normal" font-style="normal" text-anchor="end" >0.2</text>
<text x="351.60" y="303.12" font-size="15" fill="#111" font-weight="normal" font-style="normal" text-anchor="end" >0.4</text>
<text x="351.60" y="246.18" font-size="15" fill="#111" font-weight="normal" font-style="normal" text-anchor="end" >0.6</text>
<text x="351.60" y="189.24" font-size="15" fill="#111" font-weight="normal" font-style="normal" text-anchor="end" >0.8</text>
<text x="351.60" y="132.30" font-size="15" fill="#111" font-weight="normal" font-style="normal" text-anchor="end" >1.0</text>
<line x1="369.70" y1="440.90" x2="369.70" y2="437.90" stroke="#555" stroke-width="1.1" />
<line x1="379.90" y1="440.90" x2="379.90" y2="437.90" stroke="#555" stroke-width="1.1" />
<line x1="388.24" y1="440.90" x2="388.24" y2="437.90" stroke="#555" stroke-width="1.1" />
<line x1="395.29" y1="440.90" x2="395.29" y2="437.90" stroke="#555" stroke-width="1.1" />
<line x1="401.40" y1="440.90" x2="401.40" y2="437.90" stroke="#555" stroke-width="1.1" />
<line x1="406.78" y1="440.90" x2="406.78" y2="437.90" stroke="#555" stroke-width="1.1" />
<line x1="411.60" y1="440.90" x2="411.60" y2="435.70" stroke="#555" stroke-width="1.1" />
<line x1="443.30" y1="440.90" x2="443.30" y2="437.90" stroke="#555" stroke-width="1.1" />
<line x1="461.84" y1="440.90" x2="461.84" y2="437.90" stroke="#555" stroke-width="1.1" />
<line x1="475.00" y1="440.90" x2="475.00" y2="437.90" stroke="#555" stroke-width="1.1" />
<line x1="485.20" y1="440.90" x2="485.20" y2="437.90" stroke="#555" stroke-width="1.1" />
<line x1="493.54" y1="440.90" x2="493.54" y2="437.90" stroke="#555" stroke-width="1.1" />
<line x1="500.59" y1="440.90" x2="500.59" y2="437.90" stroke="#555" stroke-width="1.1" />
<line x1="506.70" y1="440.90" x2="506.70" y2="437.90" stroke="#555" stroke-width="1.1" />
<line x1="512.08" y1="440.90" x2="512.08" y2="437.90" stroke="#555" stroke-width="1.1" />
<line x1="516.90" y1="440.90" x2="516.90" y2="435.70" stroke="#555" stroke-width="1.1" />
<line x1="548.60" y1="440.90" x2="548.60" y2="437.90" stroke="#555" stroke-width="1.1" />
<line x1="567.14" y1="440.90" x2="567.14" y2="437.90" stroke="#555" stroke-width="1.1" />
<line x1="580.30" y1="440.90" x2="580.30" y2="437.90" stroke="#555" stroke-width="1.1" />
<line x1="590.50" y1="440.90" x2="590.50" y2="437.90" stroke="#555" stroke-width="1.1" />
<line x1="598.84" y1="440.90" x2="598.84" y2="437.90" stroke="#555" stroke-width="1.1" />
<line x1="605.89" y1="440.90" x2="605.89" y2="437.90" stroke="#555" stroke-width="1.1" />
<line x1="612.00" y1="440.90" x2="612.00" y2="437.90" stroke="#555" stroke-width="1.1" />
<line x1="617.38" y1="440.90" x2="617.38" y2="437.90" stroke="#555" stroke-width="1.1" />
<line x1="622.20" y1="440.90" x2="622.20" y2="435.70" stroke="#555" stroke-width="1.1" />
<line x1="653.90" y1="440.90" x2="653.90" y2="437.90" stroke="#555" stroke-width="1.1" />
<line x1="672.44" y1="440.90" x2="672.44" y2="437.90" stroke="#555" stroke-width="1.1" />
<text x="411.60" y="459.60" font-size="15" fill="#111" font-weight="normal" font-style="normal" text-anchor="middle" >10</text>
<text x="516.90" y="459.60" font-size="15" fill="#111" font-weight="normal" font-style="normal" text-anchor="middle" >100</text>
<text x="622.20" y="459.60" font-size="15" fill="#111" font-weight="normal" font-style="normal" text-anchor="middle" >1000</text>
<text x="518.20" y="486.50" font-size="19.5" fill="#111" font-weight="normal" font-style="normal" text-anchor="middle" >Milling Time (min)</text>
<text x="0.00" y="0.00" font-size="18.5" fill="#111" font-weight="normal" font-style="normal" text-anchor="middle" transform="translate(322.8,267.6) rotate(-90)">Weight Fraction</text>
<text x="311.20" y="16.30" font-size="22.5" fill="#000" font-weight="bold" font-style="normal" text-anchor="start" >b</text>
<ellipse cx="528.2" cy="410" rx="23" ry="12.5" fill="#dba385" fill-opacity="0.92" stroke="#c8141c" stroke-width="1.7" stroke-dasharray="3.2,2"/>
<line x1="357.30" y1="412.30" x2="684.40" y2="412.30" stroke="#111" stroke-width="1.2" stroke-dasharray="4.5,3"/>
<line x1="387.19" y1="401.83" x2="404.51" y2="400.90" stroke="#111" stroke-width="1.1" />
<line x1="417.73" y1="396.58" x2="437.17" y2="383.94" stroke="#111" stroke-width="1.1" />
<line x1="449.03" y1="375.79" x2="469.17" y2="361.18" stroke="#111" stroke-width="1.1" />
<line x1="477.69" y1="350.27" x2="509.11" y2="272.24" stroke="#111" stroke-width="1.1" />
<line x1="514.28" y1="258.80" x2="541.02" y2="185.78" stroke="#111" stroke-width="1.1" />
<line x1="548.60" y1="173.93" x2="570.10" y2="152.50" stroke="#111" stroke-width="1.1" />
<line x1="581.73" y1="144.38" x2="596.27" y2="137.63" stroke="#111" stroke-width="1.1" />
<line x1="610.00" y1="134.54" x2="627.20" y2="134.38" stroke="#111" stroke-width="1.1" />
<line x1="641.58" y1="133.74" x2="662.82" y2="132.04" stroke="#111" stroke-width="1.1" />
<line x1="387.08" y1="259.21" x2="404.62" y2="262.52" stroke="#1e8c1e" stroke-width="1.1" />
<line x1="418.39" y1="266.52" x2="436.51" y2="273.72" stroke="#1e8c1e" stroke-width="1.1" />
<line x1="449.98" y1="278.81" x2="468.22" y2="285.34" stroke="#1e8c1e" stroke-width="1.1" />
<line x1="479.36" y1="293.50" x2="507.44" y2="330.44" stroke="#1e8c1e" stroke-width="1.1" />
<line x1="516.22" y1="341.85" x2="539.08" y2="371.20" stroke="#1e8c1e" stroke-width="1.1" />
<line x1="549.35" y1="381.08" x2="569.35" y2="395.46" stroke="#1e8c1e" stroke-width="1.1" />
<line x1="582.17" y1="401.46" x2="595.83" y2="404.98" stroke="#1e8c1e" stroke-width="1.1" />
<line x1="610.00" y1="406.91" x2="627.20" y2="407.22" stroke="#1e8c1e" stroke-width="1.1" />
<line x1="641.60" y1="407.58" x2="662.80" y2="408.25" stroke="#1e8c1e" stroke-width="1.1" />
<line x1="386.41" y1="312.69" x2="405.29" y2="322.35" stroke="#2233ee" stroke-width="1.1" />
<line x1="416.97" y1="330.54" x2="437.93" y2="350.05" stroke="#2233ee" stroke-width="1.1" />
<line x1="448.93" y1="359.32" x2="469.27" y2="374.80" stroke="#2233ee" stroke-width="1.1" />
<line x1="480.74" y1="383.51" x2="506.06" y2="402.71" stroke="#2233ee" stroke-width="1.1" />
<line x1="518.92" y1="408.15" x2="536.38" y2="410.81" stroke="#2233ee" stroke-width="1.1" />
<line x1="550.70" y1="411.90" x2="568.00" y2="411.90" stroke="#2233ee" stroke-width="1.1" />
<line x1="582.40" y1="411.90" x2="595.60" y2="411.90" stroke="#2233ee" stroke-width="1.1" />
<line x1="610.00" y1="411.90" x2="627.20" y2="411.90" stroke="#2233ee" stroke-width="1.1" />
<line x1="641.60" y1="411.90" x2="662.80" y2="411.90" stroke="#2233ee" stroke-width="1.1" />
<line x1="386.48" y1="392.81" x2="405.22" y2="383.72" stroke="#ee2222" stroke-width="1.1" />
<line x1="417.61" y1="376.47" x2="437.29" y2="362.77" stroke="#ee2222" stroke-width="1.1" />
<line x1="449.45" y1="355.08" x2="468.75" y2="344.02" stroke="#ee2222" stroke-width="1.1" />
<line x1="481.77" y1="342.90" x2="505.03" y2="351.36" stroke="#ee2222" stroke-width="1.1" />
<line x1="516.19" y1="359.53" x2="539.11" y2="389.39" stroke="#ee2222" stroke-width="1.1" />
<line x1="550.42" y1="397.09" x2="568.28" y2="402.22" stroke="#ee2222" stroke-width="1.1" />
<line x1="582.37" y1="404.88" x2="595.63" y2="406.11" stroke="#ee2222" stroke-width="1.1" />
<line x1="610.00" y1="406.78" x2="627.20" y2="406.78" stroke="#ee2222" stroke-width="1.1" />
<line x1="641.59" y1="407.12" x2="662.81" y2="408.14" stroke="#ee2222" stroke-width="1.1" />
<circle cx="380.00" cy="309.41" r="4.7" fill="#adb4ff" stroke="#1212f0" stroke-width="1.7"/>
<circle cx="411.70" cy="325.64" r="4.7" fill="#adb4ff" stroke="#1212f0" stroke-width="1.7"/>
<circle cx="443.20" cy="354.96" r="4.7" fill="#adb4ff" stroke="#1212f0" stroke-width="1.7"/>
<circle cx="475.00" cy="379.16" r="4.7" fill="#adb4ff" stroke="#1212f0" stroke-width="1.7"/>
<circle cx="511.80" cy="407.06" r="4.7" fill="#adb4ff" stroke="#1212f0" stroke-width="1.7"/>
<circle cx="543.50" cy="411.90" r="4.7" fill="#adb4ff" stroke="#1212f0" stroke-width="1.7"/>
<circle cx="575.20" cy="411.90" r="4.7" fill="#adb4ff" stroke="#1212f0" stroke-width="1.7"/>
<circle cx="602.80" cy="411.90" r="4.7" fill="#adb4ff" stroke="#1212f0" stroke-width="1.7"/>
<circle cx="634.40" cy="411.90" r="4.7" fill="#adb4ff" stroke="#1212f0" stroke-width="1.7"/>
<circle cx="670.00" cy="411.90" r="4.7" fill="#adb4ff" stroke="#1212f0" stroke-width="1.7"/>
<path d="M380.00,397.20 L385.80,407.24 L374.20,407.24 Z" fill="#b4b4b4" stroke="#111" stroke-width="1.2" stroke-linejoin="miter"/>
<path d="M411.70,395.49 L417.50,405.53 L405.90,405.53 Z" fill="#b4b4b4" stroke="#111" stroke-width="1.2" stroke-linejoin="miter"/>
<path d="M443.20,374.99 L449.00,385.04 L437.40,385.04 Z" fill="#b4b4b4" stroke="#111" stroke-width="1.2" stroke-linejoin="miter"/>
<path d="M475.00,351.93 L480.80,361.98 L469.20,361.98 Z" fill="#b4b4b4" stroke="#111" stroke-width="1.2" stroke-linejoin="miter"/>
<path d="M511.80,260.54 L517.60,270.59 L506.00,270.59 Z" fill="#b4b4b4" stroke="#111" stroke-width="1.2" stroke-linejoin="miter"/>
<path d="M543.50,173.99 L549.30,184.04 L537.70,184.04 Z" fill="#b4b4b4" stroke="#111" stroke-width="1.2" stroke-linejoin="miter"/>
<path d="M575.20,142.39 L581.00,152.44 L569.40,152.44 Z" fill="#b4b4b4" stroke="#111" stroke-width="1.2" stroke-linejoin="miter"/>
<path d="M602.80,129.58 L608.60,139.62 L597.00,139.62 Z" fill="#b4b4b4" stroke="#111" stroke-width="1.2" stroke-linejoin="miter"/>
<path d="M634.40,129.29 L640.20,139.34 L628.60,139.34 Z" fill="#b4b4b4" stroke="#111" stroke-width="1.2" stroke-linejoin="miter"/>
<path d="M670.00,126.45 L675.80,136.49 L664.20,136.49 Z" fill="#b4b4b4" stroke="#111" stroke-width="1.2" stroke-linejoin="miter"/>
<rect x="375.60" y="253.48" width="8.8" height="8.8" fill="#66ee66" stroke="#0f8a0f" stroke-width="1.3"/>
<rect x="407.30" y="259.46" width="8.8" height="8.8" fill="#66ee66" stroke="#0f8a0f" stroke-width="1.3"/>
<rect x="438.80" y="271.98" width="8.8" height="8.8" fill="#66ee66" stroke="#0f8a0f" stroke-width="1.3"/>
<rect x="470.60" y="283.37" width="8.8" height="8.8" fill="#66ee66" stroke="#0f8a0f" stroke-width="1.3"/>
<rect x="507.40" y="331.77" width="8.8" height="8.8" fill="#66ee66" stroke="#0f8a0f" stroke-width="1.3"/>
<rect x="539.10" y="372.48" width="8.8" height="8.8" fill="#66ee66" stroke="#0f8a0f" stroke-width="1.3"/>
<rect x="570.80" y="395.26" width="8.8" height="8.8" fill="#66ee66" stroke="#0f8a0f" stroke-width="1.3"/>
<rect x="598.40" y="402.38" width="8.8" height="8.8" fill="#66ee66" stroke="#0f8a0f" stroke-width="1.3"/>
<rect x="630.00" y="402.94" width="8.8" height="8.8" fill="#66ee66" stroke="#0f8a0f" stroke-width="1.3"/>
<rect x="665.60" y="404.08" width="8.8" height="8.8" fill="#66ee66" stroke="#0f8a0f" stroke-width="1.3"/>
<path d="M380.00,389.96 L386.00,395.96 L380.00,401.96 L374.00,395.96 Z" fill="#ffc2c8" stroke="#ff1a1a" stroke-width="1.4"/>
<path d="M411.70,374.58 L417.70,380.58 L411.70,386.58 L405.70,380.58 Z" fill="#ffc2c8" stroke="#ff1a1a" stroke-width="1.4"/>
<path d="M443.20,352.66 L449.20,358.66 L443.20,364.66 L437.20,358.66 Z" fill="#ffc2c8" stroke="#ff1a1a" stroke-width="1.4"/>
<path d="M475.00,334.44 L481.00,340.44 L475.00,346.44 L469.00,340.44 Z" fill="#ffc2c8" stroke="#ff1a1a" stroke-width="1.4"/>
<path d="M511.80,347.82 L517.80,353.82 L511.80,359.82 L505.80,353.82 Z" fill="#ffc2c8" stroke="#ff1a1a" stroke-width="1.4"/>
<path d="M543.50,389.10 L549.50,395.10 L543.50,401.10 L537.50,395.10 Z" fill="#ffc2c8" stroke="#ff1a1a" stroke-width="1.4"/>
<path d="M575.20,398.21 L581.20,404.21 L575.20,410.21 L569.20,404.21 Z" fill="#ffc2c8" stroke="#ff1a1a" stroke-width="1.4"/>
<path d="M602.80,400.78 L608.80,406.78 L602.80,412.78 L596.80,406.78 Z" fill="#ffc2c8" stroke="#ff1a1a" stroke-width="1.4"/>
<path d="M634.40,400.78 L640.40,406.78 L634.40,412.78 L628.40,406.78 Z" fill="#ffc2c8" stroke="#ff1a1a" stroke-width="1.4"/>
<path d="M670.00,402.48 L676.00,408.48 L670.00,414.48 L664.00,408.48 Z" fill="#ffc2c8" stroke="#ff1a1a" stroke-width="1.4"/>
<path d="M381.50,123.6 L371.5,123.6 L371.5,170.1 L490.9,170.1 L490.9,123.6 L443.90,123.6" fill="#f6f6f6" stroke="#8a8a8a" stroke-width="1.1"/>
<rect x="372.1" y="124.19999999999999" width="118.19999999999997" height="45.3" fill="#f6f6f6"/>
<text x="412.70" y="128.20" font-size="11.5" fill="#222" font-weight="normal" font-style="normal" text-anchor="middle" >Precursors</text>
<path d="M381.50,183.9 L371.5,183.9 L371.5,235.8 L490.9,235.8 L490.9,183.9 L433.00,183.9" fill="#f6f6f6" stroke="#8a8a8a" stroke-width="1.1"/>
<rect x="372.1" y="184.5" width="118.19999999999997" height="50.7" fill="#f6f6f6"/>
<text x="407.25" y="188.50" font-size="11.5" fill="#222" font-weight="normal" font-style="normal" text-anchor="middle" >Products</text>
<line x1="380.80" y1="139.50" x2="386.50" y2="139.50" stroke="#1e8c1e" stroke-width="1.1" />
<line x1="401.50" y1="139.50" x2="407.00" y2="139.50" stroke="#1e8c1e" stroke-width="1.1" />
<line x1="380.80" y1="158.10" x2="386.50" y2="158.10" stroke="#2233ee" stroke-width="1.1" />
<line x1="401.50" y1="158.10" x2="407.00" y2="158.10" stroke="#2233ee" stroke-width="1.1" />
<line x1="380.80" y1="201.90" x2="386.50" y2="201.90" stroke="#111" stroke-width="1.1" />
<line x1="401.50" y1="201.90" x2="407.00" y2="201.90" stroke="#111" stroke-width="1.1" />
<line x1="380.80" y1="224.10" x2="386.50" y2="224.10" stroke="#ee2222" stroke-width="1.1" />
<line x1="401.50" y1="224.10" x2="407.00" y2="224.10" stroke="#ee2222" stroke-width="1.1" />
<rect x="389.80" y="135.10" width="8.8" height="8.8" fill="#66ee66" stroke="#0f8a0f" stroke-width="1.3"/>
<circle cx="394.20" cy="158.10" r="4.7" fill="#adb4ff" stroke="#1212f0" stroke-width="1.7"/>
<path d="M394.20,196.88 L400.00,206.92 L388.40,206.92 Z" fill="#b4b4b4" stroke="#111" stroke-width="1.2" stroke-linejoin="miter"/>
<path d="M394.20,218.10 L400.20,224.10 L394.20,230.10 L388.20,224.10 Z" fill="#ffc2c8" stroke="#ff1a1a" stroke-width="1.4"/>
<text x="411.10" y="143.60" font-size="11.5" fill="#1e8c1e" font-weight="normal" font-style="normal" text-anchor="start" >CsBr</text>
<text x="411.10" y="162.20" font-size="11.5" fill="#2233ee" font-weight="normal" font-style="normal" text-anchor="start" >PbBr<tspan dy="3.22" font-size="7.13">2</tspan><tspan dy="-3.22">&#8203;</tspan></text>
<text x="411.10" y="206.00" font-size="11.5" fill="#111" font-weight="normal" font-style="normal" text-anchor="start" >0D Cs<tspan dy="3.22" font-size="7.13">4</tspan><tspan dy="-3.22">&#8203;</tspan>PbBr<tspan dy="3.22" font-size="7.13">6</tspan><tspan dy="-3.22">&#8203;</tspan></text>
<text x="411.10" y="228.20" font-size="11.5" fill="#ee2222" font-weight="normal" font-style="normal" text-anchor="start" >3D CsPbBr<tspan dy="3.22" font-size="7.13">3</tspan><tspan dy="-3.22">&#8203;</tspan></text>
<path d="M399.4,413.2 Q404,421.5 417.5,423.4" fill="none" stroke="#111" stroke-width="1.9"/>
<path d="M421.6,423.6 L415.6,420.2 L416.2,426.6 Z" fill="#111"/>
<text x="425.60" y="430.80" font-size="11.5" fill="#111" font-weight="normal" font-style="normal" text-anchor="start" >Zero-baseline</text>
<path d="M581.9,265.5 Q598,271 602.8,285" fill="none" stroke="#109a20" stroke-width="2.2"/>
<path d="M603.2,292.6 L597.2,281.3 L602.9,284.4 L608.4,281 Z" fill="#109a20"/>
<text x="614.30" y="306.20" font-size="13" fill="#14902a" font-weight="normal" font-style="normal" text-anchor="middle" >Maximum of</text>
<text x="614.40" y="321.20" font-size="12.4" fill="#14902a" font-weight="normal" font-style="normal" text-anchor="middle" >PL intensity &amp; PLQE</text>
<text x="-0.60" y="526.50" font-size="23" fill="#000" font-weight="bold" font-style="normal" text-anchor="start" >c</text>
<line x1="30.80" y1="829.50" x2="30.80" y2="518.00" stroke="#333" stroke-width="1.3" />
<path d="M30.8,513.2 L26.5,522.8 L30.8,521.2 L35.1,522.8 Z" fill="#111"/>
<line x1="30.80" y1="829.50" x2="675.00" y2="829.50" stroke="#333" stroke-width="1.3" />
<path d="M680.6,829.5 L670.7,825.3 L673.3,829.5 L670.7,833.7 Z" fill="#111"/>
<text x="0.00" y="0.00" font-size="18.5" fill="#111" font-weight="normal" font-style="normal" text-anchor="middle" transform="translate(15.2,655.7) rotate(-90)">Free Energy</text>
<text x="359.30" y="861.60" font-size="18.4" fill="#111" font-weight="normal" font-style="normal" text-anchor="middle" >Reaction Coordinate</text>
<line x1="53.60" y1="543.30" x2="81.00" y2="543.30" stroke="#c8141c" stroke-width="2" />
<line x1="53.60" y1="567.00" x2="81.00" y2="567.00" stroke="#1c5cc4" stroke-width="2" />
<text x="90.90" y="548.10" font-size="16" fill="#c8141c" font-weight="bold" font-style="normal" text-anchor="start" >Path A</text>
<text x="90.90" y="572.20" font-size="16" fill="#1c5cc4" font-weight="bold" font-style="normal" text-anchor="start" >Path B</text>
<g stroke-dasharray="5,3" stroke-width="1">
<line x1="166.00" y1="523.40" x2="216.00" y2="523.40" stroke="#e59a9a" stroke-width="1" stroke-dasharray="5,3"/>
<line x1="150.00" y1="652.60" x2="236.00" y2="652.60" stroke="#888" stroke-width="1" stroke-dasharray="5,3"/>
<line x1="120.20" y1="744.20" x2="280.00" y2="744.20" stroke="#777" stroke-width="1" stroke-dasharray="5,3"/>
<line x1="87.30" y1="788.20" x2="296.00" y2="788.20" stroke="#555" stroke-width="1" stroke-dasharray="5,3"/>
</g>
<circle cx="469.4" cy="703.2" r="28.5" fill="url(#gcirc)"/>
<path d="M135.00,652.40 C137.48,651.83 145.22,650.67 149.90,649.00 C154.58,647.33 159.25,645.15 163.10,642.40 C166.95,639.65 170.25,636.08 173.00,632.50 C175.75,628.92 177.38,626.70 179.60,620.90 C181.82,615.10 184.37,605.97 186.30,597.70 C188.23,589.43 189.55,579.02 191.20,571.30 C192.85,563.58 194.27,557.75 196.20,551.40 C198.13,545.05 200.60,537.62 202.80,533.20 C205.00,528.78 207.08,526.55 209.40,524.90 C211.72,523.25 213.93,523.02 216.70,523.30 C219.47,523.58 223.35,524.67 226.00,526.60 C228.65,528.53 230.68,531.32 232.60,534.90 C234.52,538.48 235.85,541.48 237.50,548.10 C239.15,554.72 240.83,563.57 242.50,574.60 C244.17,585.63 246.12,602.17 247.50,614.30 C248.88,626.43 249.70,636.37 250.80,647.40 C251.90,658.43 253.00,669.48 254.10,680.50 C255.20,691.52 256.30,703.58 257.40,713.50 C258.50,723.42 259.32,731.72 260.70,740.00 C262.08,748.28 263.77,756.58 265.70,763.20 C267.63,769.82 269.55,775.73 272.30,779.70 C275.05,783.67 278.33,785.57 282.20,787.00 C286.07,788.43 289.20,788.08 295.50,788.30 C301.80,788.52 277.42,788.30 320.00,788.30 C362.58,788.30 512.50,788.30 551.00,788.30" fill="none" stroke="#c8141c" stroke-width="2"/>
<path d="M135.00,652.40 C138.58,652.22 150.72,652.13 156.50,651.30 C162.28,650.47 165.85,649.72 169.70,647.40 C173.55,645.08 176.57,641.82 179.60,637.40 C182.63,632.98 185.42,626.97 187.90,620.90 C190.38,614.83 192.30,606.80 194.50,601.00 C196.70,595.20 198.88,589.68 201.10,586.10 C203.32,582.52 205.87,580.77 207.80,579.50 C209.73,578.23 210.78,578.22 212.70,578.50 C214.62,578.78 217.08,579.10 219.30,581.20 C221.52,583.30 224.07,586.68 226.00,591.10 C227.93,595.52 229.25,600.53 230.90,607.70 C232.55,614.87 234.23,624.73 235.90,634.10 C237.57,643.47 239.25,654.52 240.90,663.90 C242.55,673.28 244.15,682.68 245.80,690.40 C247.45,698.12 248.87,704.13 250.80,710.20 C252.73,716.27 254.92,722.10 257.40,726.80 C259.88,731.50 262.67,735.65 265.70,738.40 C268.73,741.15 272.30,742.33 275.60,743.30 C278.90,744.27 281.43,744.05 285.50,744.20 C289.57,744.35 277.58,744.17 300.00,744.20 C322.42,744.23 398.30,744.47 420.00,744.40 C441.70,744.33 427.13,744.58 430.20,743.80 C433.27,743.02 436.02,742.08 438.40,739.70 C440.78,737.32 442.80,733.25 444.50,729.50 C446.20,725.75 447.23,721.28 448.60,717.20 C449.97,713.12 451.17,708.40 452.70,705.00 C454.23,701.60 456.10,698.78 457.80,696.80 C459.50,694.82 461.03,693.85 462.90,693.10 C464.77,692.35 466.95,692.10 469.00,692.30 C471.05,692.50 473.32,693.03 475.20,694.30 C477.08,695.57 478.60,696.77 480.30,699.90 C482.00,703.03 483.87,708.52 485.40,713.10 C486.93,717.68 487.97,721.95 489.50,727.40 C491.03,732.85 492.90,740.00 494.60,745.80 C496.30,751.60 497.83,757.08 499.70,762.20 C501.57,767.32 503.42,772.68 505.80,776.50 C508.18,780.32 510.58,783.17 514.00,785.10 C517.42,787.03 521.97,787.57 526.30,788.10 C530.63,788.63 535.80,788.27 540.00,788.30 C544.20,788.33 549.58,788.30 551.50,788.30" fill="none" stroke="#1c5cc4" stroke-width="2"/>
<line x1="42.50" y1="652.40" x2="136.00" y2="652.40" stroke="#111" stroke-width="2.2" />
<line x1="551.00" y1="788.30" x2="644.60" y2="788.30" stroke="#111" stroke-width="2.2" />
<path d="M309.0,744.2 L301.5,740 L303.5,744.2 L301.5,748.4 Z" fill="#1c5cc4"/>
<path d="M393.0,744.2 L385.5,740 L387.5,744.2 L385.5,748.4 Z" fill="#1c5cc4"/>
<line x1="171.60" y1="528.60" x2="171.60" y2="647.40" stroke="#c8141c" stroke-width="1.1" />
<path d="M171.6,523.6 L169.0,529.6 L174.2,529.6 Z" fill="#c8141c"/>
<path d="M171.6,652.4 L169.0,646.4 L174.2,646.4 Z" fill="#c8141c"/>
<line x1="212.10" y1="584.30" x2="212.10" y2="647.40" stroke="#1c5cc4" stroke-width="1.1" />
<path d="M212.1,579.3 L209.5,585.3 L214.7,585.3 Z" fill="#1c5cc4"/>
<path d="M212.1,652.4 L209.5,646.4 L214.7,646.4 Z" fill="#1c5cc4"/>
<line x1="100.40" y1="657.60" x2="100.40" y2="783.00" stroke="#111" stroke-width="1.1" />
<path d="M100.4,652.6 L97.80000000000001,658.6 L103.0,658.6 Z" fill="#111"/>
<path d="M100.4,788 L97.80000000000001,782 L103.0,782 Z" fill="#111"/>
<line x1="132.90" y1="657.60" x2="132.90" y2="739.20" stroke="#111" stroke-width="1.1" />
<path d="M132.9,652.6 L130.3,658.6 L135.5,658.6 Z" fill="#111"/>
<path d="M132.9,744.2 L130.3,738.2 L135.5,738.2 Z" fill="#111"/>
<rect x="160.00" y="566.00" width="22.00" height="19.00" fill="#fff" />
<text x="160.50" y="579.00" font-size="16" fill="#c8141c" font-weight="bold" font-style="italic" text-anchor="start" >E</text>
<text x="170.30" y="583.20" font-size="9.3" fill="#c8141c" font-weight="bold" font-style="normal" text-anchor="start" >0D</text>
<rect x="201.00" y="610.00" width="22.00" height="19.00" fill="#fff" />
<text x="201.80" y="621.70" font-size="16" fill="#1c5cc4" font-weight="bold" font-style="italic" text-anchor="start" >E</text>
<text x="211.30" y="626.30" font-size="9.3" fill="#1c5cc4" font-weight="bold" font-style="normal" text-anchor="start" >3D</text>
<rect x="109.00" y="684.00" width="62.00" height="16.00" fill="#fff" />
<text x="140.30" y="697.60" font-size="14" fill="#111" font-weight="normal" font-style="normal" text-anchor="middle" >22 kJ/mol</text>
<rect x="66.00" y="708.00" width="63.00" height="16.00" fill="#fff" />
<text x="97.40" y="721.70" font-size="14" fill="#111" font-weight="normal" font-style="normal" text-anchor="middle" >38 kJ/mol</text>
<text x="51.20" y="625.70" font-size="16.6" fill="#111" font-weight="bold" font-style="normal" text-anchor="start" >Reactants</text>
<text x="50.30" y="644.00" font-size="14" fill="#111" font-weight="normal" font-style="normal" text-anchor="start" >4CsBr + PbBr<tspan dy="3.92" font-size="9.52">2</tspan><tspan dy="-3.92">&#8203;</tspan></text>
<line x1="150.00" y1="808.60" x2="61.00" y2="808.60" stroke="#c8141c" stroke-width="1.1" />
<polyline points="67.00,805.40 61.00,808.60 67.00,811.80" fill="none" stroke="#c8141c" stroke-width="1.1" stroke-linejoin="miter"/>
<line x1="222.00" y1="808.60" x2="315.00" y2="808.60" stroke="#c8141c" stroke-width="1.1" />
<polyline points="309.00,805.40 315.00,808.60 309.00,811.80" fill="none" stroke="#c8141c" stroke-width="1.1" stroke-linejoin="miter"/>
<text x="185.70" y="814.30" font-size="15.5" fill="#c8141c" font-weight="bold" font-style="normal" text-anchor="middle" >Stage 1</text>
<line x1="428.00" y1="808.90" x2="333.70" y2="808.90" stroke="#1c5cc4" stroke-width="1.1" />
<polyline points="339.70,805.70 333.70,808.90 339.70,812.10" fill="none" stroke="#1c5cc4" stroke-width="1.1" stroke-linejoin="miter"/>
<line x1="498.00" y1="808.90" x2="595.00" y2="808.90" stroke="#1c5cc4" stroke-width="1.1" />
<polyline points="589.00,805.70 595.00,808.90 589.00,812.10" fill="none" stroke="#1c5cc4" stroke-width="1.1" stroke-linejoin="miter"/>
<text x="462.90" y="814.60" font-size="15.5" fill="#1c5cc4" font-weight="bold" font-style="normal" text-anchor="middle" >Stage 2</text>
<line x1="324.30" y1="753.00" x2="324.30" y2="828.00" stroke="#c8141c" stroke-width="1.4" stroke-dasharray="4,3"/>
<text x="332.80" y="778.00" font-size="14" fill="#c8141c" font-weight="normal" font-style="normal" text-anchor="start" >Full consumption of PbBr<tspan dy="3.92" font-size="9.52">2</tspan><tspan dy="-3.92">&#8203;</tspan></text>
<ellipse cx="322.5" cy="730.5" rx="29" ry="11" fill="url(#pglow)"/>
<text x="275.30" y="717.00" font-size="15.65" fill="#111" font-weight="bold" font-style="normal" text-anchor="start" >Intermediate Mixture</text>
<text x="298.30" y="735.20" font-size="14" fill="#111" font-weight="normal" font-style="normal" text-anchor="start" >CsPbBr<tspan dy="3.92" font-size="9.52">3</tspan><tspan dy="-3.92">&#8203;</tspan> + 3CsBr</text>
<text x="531.20" y="758.00" font-size="16.6" fill="#111" font-weight="bold" font-style="normal" text-anchor="start" >Final Product</text>
<text x="551.20" y="778.00" font-size="14" fill="#111" font-weight="normal" font-style="normal" text-anchor="start" >Cs<tspan dy="3.92" font-size="9.52">4</tspan><tspan dy="-3.92">&#8203;</tspan>PbBr<tspan dy="3.92" font-size="9.52">6</tspan><tspan dy="-3.92">&#8203;</tspan></text>
<path d="M480.3,691.7 Q488,678 500,677.2" fill="none" stroke="#1a7a3a" stroke-width="1.2"/>
<path d="M506.5,677 L499,673.4 L500,680.6 Z" fill="#1a7a3a"/>
<text x="510.80" y="680.70" font-size="14" fill="#1a7a3a" font-weight="normal" font-style="normal" text-anchor="start" >Maximum of</text>
<text x="510.80" y="697.60" font-size="14" fill="#1a7a3a" font-weight="normal" font-style="normal" text-anchor="start" >PL Intensity &amp; PLQE</text>
<path d="M293.5,521.3 L270.1,521.3 Q262.1,521.3 262.1,529.3 L262.1,652.6 Q262.1,660.6 270.1,660.6 L660.9,660.6 Q668.9,660.6 668.9,652.6 L668.9,529.3 Q668.9,521.3 660.9,521.3 L638.5,521.3" fill="none" stroke="#6a6a6a" stroke-width="1.1"/>
<text x="297.30" y="526.60" font-size="16.8" fill="#111" font-weight="bold" font-style="normal" text-anchor="start" xml:space="preserve">Topological changes in  Pb&#8211;Br polymorph</text>
<rect x="276.8" y="536.3" width="31.2" height="34.1" rx="4" fill="#fff" stroke="#888" stroke-width="1"/>
<circle cx="284.7" cy="546.1" r="3.6" fill="#2a6050" stroke="#1a4a3a" stroke-width="0.6"/>
<circle cx="284.9" cy="545.8" r="1.2" fill="#a8d8c8"/>
<circle cx="284.6" cy="563.2" r="2.1" fill="#fff" stroke="#9a90d0" stroke-width="1.1"/>
<text x="291.30" y="549.20" font-size="11" fill="#555" font-weight="normal" font-style="normal" text-anchor="start" >Pb</text>
<text x="291.30" y="565.60" font-size="11" fill="#555" font-weight="normal" font-style="normal" text-anchor="start" >Br</text>
<text x="327.00" y="556.60" font-size="13.5" fill="#111" font-weight="normal" font-style="normal" text-anchor="start" >PbBr<tspan dy="3.78" font-size="9.18">2</tspan><tspan dy="-3.78">&#8203;</tspan></text>
<text x="557.70" y="552.20" font-size="12.5" fill="#111" font-weight="normal" font-style="normal" text-anchor="start" >Cs<tspan dy="3.50" font-size="8.12">4</tspan><tspan dy="-3.50">&#8203;</tspan>PbBr<tspan dy="3.50" font-size="8.12">6</tspan><tspan dy="-3.50">&#8203;</tspan></text>
<ellipse cx="482.5" cy="575.5" rx="37" ry="12" fill="url(#pglow)"/>
<text x="456.80" y="580.00" font-size="13.8" fill="#111" font-weight="normal" font-style="normal" text-anchor="start" >CsPbBr<tspan dy="3.86" font-size="9.11">3</tspan><tspan dy="-3.86">&#8203;</tspan></text>
<polygon points="322.3,566.0 336.2,562.0 342.8,570.8 341.3,584.2 323.8,586.4 316.5,578.4" fill="#6fa8c0" stroke="#6aa0b8" stroke-width="0.6"/>
<polygon points="322.3,566.0 336.2,562.0 331.1,576.6" fill="#4f86a0" opacity="0.55"/>
<polygon points="342.8,570.8 341.3,584.2 331.1,576.6" fill="#4f86a0" opacity="0.55"/>
<polygon points="323.8,586.4 316.5,578.4 331.1,576.6" fill="#4f86a0" opacity="0.55"/>
<circle cx="331.1" cy="576.6" r="3.2" fill="#1f4f48" opacity="0.9"/>
<circle cx="331.1" cy="576.6" r="1.3" fill="#b0dcd0" opacity="0.9"/>
<circle cx="322.3" cy="566.0" r="1.7" fill="#fff" stroke="#9a8fd0" stroke-width="0.9"/>
<circle cx="336.2" cy="562.0" r="1.7" fill="#fff" stroke="#9a8fd0" stroke-width="0.9"/>
<circle cx="342.8" cy="570.8" r="1.7" fill="#fff" stroke="#9a8fd0" stroke-width="0.9"/>
<circle cx="341.3" cy="584.2" r="1.7" fill="#fff" stroke="#9a8fd0" stroke-width="0.9"/>
<circle cx="323.8" cy="586.4" r="1.7" fill="#fff" stroke="#9a8fd0" stroke-width="0.9"/>
<circle cx="316.5" cy="578.4" r="1.7" fill="#fff" stroke="#9a8fd0" stroke-width="0.9"/>
<polygon points="304.1,582.0 316.5,578.4 323.8,586.4 322.3,604.6 305.5,602.0 297.2,594.7" fill="#6fa8c0" stroke="#6aa0b8" stroke-width="0.6"/>
<polygon points="304.1,582.0 316.5,578.4 311.4,592.2" fill="#4f86a0" opacity="0.55"/>
<polygon points="323.8,586.4 322.3,604.6 311.4,592.2" fill="#4f86a0" opacity="0.55"/>
<polygon points="305.5,602.0 297.2,594.7 311.4,592.2" fill="#4f86a0" opacity="0.55"/>
<circle cx="311.4" cy="592.2" r="3.2" fill="#1f4f48" opacity="0.9"/>
<circle cx="311.4" cy="592.2" r="1.3" fill="#b0dcd0" opacity="0.9"/>
<circle cx="304.1" cy="582.0" r="1.7" fill="#fff" stroke="#9a8fd0" stroke-width="0.9"/>
<circle cx="316.5" cy="578.4" r="1.7" fill="#fff" stroke="#9a8fd0" stroke-width="0.9"/>
<circle cx="323.8" cy="586.4" r="1.7" fill="#fff" stroke="#9a8fd0" stroke-width="0.9"/>
<circle cx="322.3" cy="604.6" r="1.7" fill="#fff" stroke="#9a8fd0" stroke-width="0.9"/>
<circle cx="305.5" cy="602.0" r="1.7" fill="#fff" stroke="#9a8fd0" stroke-width="0.9"/>
<circle cx="297.2" cy="594.7" r="1.7" fill="#fff" stroke="#9a8fd0" stroke-width="0.9"/>
<polygon points="349.3,578.1 360.3,573.2 370.5,583.5 367.6,601.0 350.8,599.5 342.0,588.9" fill="#86c4dc" stroke="#6aa0b8" stroke-width="0.6"/>
<polygon points="349.3,578.1 360.3,573.2 355.9,587.1" fill="#5f9ab2" opacity="0.55"/>
<polygon points="370.5,583.5 367.6,601.0 355.9,587.1" fill="#5f9ab2" opacity="0.55"/>
<polygon points="350.8,599.5 342.0,588.9 355.9,587.1" fill="#5f9ab2" opacity="0.55"/>
<polygon points="350,579 368,584 352,598" fill="#e6eef0" opacity="0.9"/>
<circle cx="355.9" cy="587.1" r="3.2" fill="#7fb89a" opacity="0.9"/>
<circle cx="355.9" cy="587.1" r="1.3" fill="#b0dcd0" opacity="0.9"/>
<circle cx="349.3" cy="578.1" r="1.7" fill="#fff" stroke="#9a8fd0" stroke-width="0.9"/>
<circle cx="360.3" cy="573.2" r="1.7" fill="#fff" stroke="#9a8fd0" stroke-width="0.9"/>
<circle cx="370.5" cy="583.5" r="1.7" fill="#fff" stroke="#9a8fd0" stroke-width="0.9"/>
<circle cx="367.6" cy="601.0" r="1.7" fill="#fff" stroke="#9a8fd0" stroke-width="0.9"/>
<circle cx="350.8" cy="599.5" r="1.7" fill="#fff" stroke="#9a8fd0" stroke-width="0.9"/>
<circle cx="342.0" cy="588.9" r="1.7" fill="#fff" stroke="#9a8fd0" stroke-width="0.9"/>
<polygon points="329.6,594.4 342.0,588.9 350.8,599.5 348.6,617.0 331.1,616.3 322.3,604.6" fill="#86c4dc" stroke="#6aa0b8" stroke-width="0.6"/>
<polygon points="329.6,594.4 342.0,588.9 337.2,602.9" fill="#5f9ab2" opacity="0.55"/>
<polygon points="350.8,599.5 348.6,617.0 337.2,602.9" fill="#5f9ab2" opacity="0.55"/>
<polygon points="331.1,616.3 322.3,604.6 337.2,602.9" fill="#5f9ab2" opacity="0.55"/>
<polygon points="331,596 349,600 333,615" fill="#e6eef0" opacity="0.9"/>
<circle cx="337.2" cy="602.9" r="3.2" fill="#7fb89a" opacity="0.9"/>
<circle cx="337.2" cy="602.9" r="1.3" fill="#b0dcd0" opacity="0.9"/>
<circle cx="329.6" cy="594.4" r="1.7" fill="#fff" stroke="#9a8fd0" stroke-width="0.9"/>
<circle cx="342.0" cy="588.9" r="1.7" fill="#fff" stroke="#9a8fd0" stroke-width="0.9"/>
<circle cx="350.8" cy="599.5" r="1.7" fill="#fff" stroke="#9a8fd0" stroke-width="0.9"/>
<circle cx="348.6" cy="617.0" r="1.7" fill="#fff" stroke="#9a8fd0" stroke-width="0.9"/>
<circle cx="331.1" cy="616.3" r="1.7" fill="#fff" stroke="#9a8fd0" stroke-width="0.9"/>
<circle cx="322.3" cy="604.6" r="1.7" fill="#fff" stroke="#9a8fd0" stroke-width="0.9"/>
<line x1="316.50" y1="578.40" x2="323.80" y2="586.40" stroke="#d6246e" stroke-width="1.1" />
<line x1="342.00" y1="588.90" x2="350.80" y2="599.50" stroke="#d6246e" stroke-width="1.1" />
<circle cx="342" cy="588.9" r="3.6" fill="none" stroke="#d6246e" stroke-width="1.1"/>
<circle cx="322.3" cy="604.6" r="3.6" fill="none" stroke="#d6246e" stroke-width="1.1"/>
<path d="M316.5,583.2 Q300,578 292,590 Q286,600 286,617" fill="none" stroke="#d6246e" stroke-width="1.2" stroke-dasharray="3,2"/>
<path d="M285.8,622.4 L283,615.5 L289,615.8 Z" fill="#d6246e"/>
<path d="M322.3,608 Q324,614 325,620" fill="none" stroke="#d6246e" stroke-width="1.2" stroke-dasharray="3,2"/>
<path d="M325.5,626.5 L322.2,619.5 L328.2,619.3 Z" fill="#d6246e"/>
<text x="267.6" y="636.8" font-size="12.3"><tspan fill="#d6246e">Edge</tspan><tspan fill="#111"> &amp; </tspan><tspan fill="#d6246e">Corner</tspan><tspan fill="#111">-sharing</tspan></text>
<text x="330.70" y="652.20" font-size="12.3" fill="#111" font-weight="normal" font-style="normal" text-anchor="middle" >polyhedra</text>
<polygon points="462.8,589.8 478.5,598.5 468.6,613.5 453.4,605.0" fill="#8ec2d8" stroke="#6aa0b8" stroke-width="0.6"/>
<polygon points="462.8,589.8 478.5,598.5 465.7,601.5" fill="#6a9fb8" opacity="0.55"/>
<polygon points="468.6,613.5 453.4,605.0 465.7,601.5" fill="#6a9fb8" opacity="0.55"/>
<circle cx="465.7" cy="601.5" r="3.2" fill="#2f6f62" opacity="0.9"/>
<circle cx="465.7" cy="601.5" r="1.3" fill="#b0dcd0" opacity="0.9"/>
<circle cx="462.8" cy="589.8" r="1.7" fill="#fff" stroke="#9a8fd0" stroke-width="0.9"/>
<circle cx="478.5" cy="598.5" r="1.7" fill="#fff" stroke="#9a8fd0" stroke-width="0.9"/>
<circle cx="468.6" cy="613.5" r="1.7" fill="#fff" stroke="#9a8fd0" stroke-width="0.9"/>
<circle cx="453.4" cy="605.0" r="1.7" fill="#fff" stroke="#9a8fd0" stroke-width="0.9"/>
<polygon points="491.4,586.6 502.8,599.7 489.6,611.4 478.5,598.5" fill="#8ec2d8" stroke="#6aa0b8" stroke-width="0.6"/>
<polygon points="491.4,586.6 502.8,599.7 490.5,599.1" fill="#6a9fb8" opacity="0.55"/>
<polygon points="489.6,611.4 478.5,598.5 490.5,599.1" fill="#6a9fb8" opacity="0.55"/>
<circle cx="490.5" cy="599.1" r="3.2" fill="#2f6f62" opacity="0.9"/>
<circle cx="490.5" cy="599.1" r="1.3" fill="#b0dcd0" opacity="0.9"/>
<circle cx="491.4" cy="586.6" r="1.7" fill="#fff" stroke="#9a8fd0" stroke-width="0.9"/>
<circle cx="502.8" cy="599.7" r="1.7" fill="#fff" stroke="#9a8fd0" stroke-width="0.9"/>
<circle cx="489.6" cy="611.4" r="1.7" fill="#fff" stroke="#9a8fd0" stroke-width="0.9"/>
<circle cx="478.5" cy="598.5" r="1.7" fill="#fff" stroke="#9a8fd0" stroke-width="0.9"/>
<polygon points="468.6,613.5 480.6,626.0 467.4,638.2 455.8,625.4" fill="#8ec2d8" stroke="#6aa0b8" stroke-width="0.6"/>
<polygon points="468.6,613.5 480.6,626.0 468.0,625.4" fill="#6a9fb8" opacity="0.55"/>
<polygon points="467.4,638.2 455.8,625.4 468.0,625.4" fill="#6a9fb8" opacity="0.55"/>
<circle cx="468.0" cy="625.4" r="3.2" fill="#2f6f62" opacity="0.9"/>
<circle cx="468.0" cy="625.4" r="1.3" fill="#b0dcd0" opacity="0.9"/>
<circle cx="468.6" cy="613.5" r="1.7" fill="#fff" stroke="#9a8fd0" stroke-width="0.9"/>
<circle cx="480.6" cy="626.0" r="1.7" fill="#fff" stroke="#9a8fd0" stroke-width="0.9"/>
<circle cx="467.4" cy="638.2" r="1.7" fill="#fff" stroke="#9a8fd0" stroke-width="0.9"/>
<circle cx="455.8" cy="625.4" r="1.7" fill="#fff" stroke="#9a8fd0" stroke-width="0.9"/>
<polygon points="489.6,611.4 504.2,620.1 494.9,634.2 480.6,626.0" fill="#8ec2d8" stroke="#6aa0b8" stroke-width="0.6"/>
<polygon points="489.6,611.4 504.2,620.1 492.3,623.1" fill="#6a9fb8" opacity="0.55"/>
<polygon points="494.9,634.2 480.6,626.0 492.3,623.1" fill="#6a9fb8" opacity="0.55"/>
<circle cx="492.3" cy="623.1" r="3.2" fill="#2f6f62" opacity="0.9"/>
<circle cx="492.3" cy="623.1" r="1.3" fill="#b0dcd0" opacity="0.9"/>
<circle cx="489.6" cy="611.4" r="1.7" fill="#fff" stroke="#9a8fd0" stroke-width="0.9"/>
<circle cx="504.2" cy="620.1" r="1.7" fill="#fff" stroke="#9a8fd0" stroke-width="0.9"/>
<circle cx="494.9" cy="634.2" r="1.7" fill="#fff" stroke="#9a8fd0" stroke-width="0.9"/>
<circle cx="480.6" cy="626.0" r="1.7" fill="#fff" stroke="#9a8fd0" stroke-width="0.9"/>
<circle cx="478.5" cy="598.5" r="3.8" fill="none" stroke="#d6246e" stroke-width="1.1"/>
<circle cx="489.6" cy="611.4" r="3.8" fill="none" stroke="#d6246e" stroke-width="1.1"/>
<circle cx="468.6" cy="613.5" r="3.8" fill="none" stroke="#d6246e" stroke-width="1.1"/>
<circle cx="480.6" cy="626" r="3.8" fill="none" stroke="#d6246e" stroke-width="1.1"/>
<path d="M465,613.8 Q450,616 448,636" fill="none" stroke="#d6246e" stroke-width="1.2" stroke-dasharray="3,2"/>
<path d="M447.6,642 L444.8,635 L450.8,635 Z" fill="#d6246e"/>
<text x="429.4" y="650.3" font-size="12.3"><tspan fill="#d6246e">Corner</tspan><tspan fill="#111">-sharing octahedra</tspan></text>
<polygon points="555.9,575.4 570.9,570.2 576.5,583.7 574.4,592.4 559.5,597.1 552.9,584.2" fill="#8cc6de" stroke="#6aa0b8" stroke-width="0.6"/>
<polygon points="555.9,575.4 570.9,570.2 565.1,583.7" fill="#6a9fb8" opacity="0.55"/>
<polygon points="576.5,583.7 574.4,592.4 565.1,583.7" fill="#6a9fb8" opacity="0.55"/>
<polygon points="559.5,597.1 552.9,584.2 565.1,583.7" fill="#6a9fb8" opacity="0.55"/>
<circle cx="565.1" cy="583.7" r="3.2" fill="#3f968a" opacity="0.9"/>
<circle cx="565.1" cy="583.7" r="1.3" fill="#b0dcd0" opacity="0.9"/>
<circle cx="555.9" cy="575.4" r="1.7" fill="#fff" stroke="#9a8fd0" stroke-width="0.9"/>
<circle cx="570.9" cy="570.2" r="1.7" fill="#fff" stroke="#9a8fd0" stroke-width="0.9"/>
<circle cx="576.5" cy="583.7" r="1.7" fill="#fff" stroke="#9a8fd0" stroke-width="0.9"/>
<circle cx="574.4" cy="592.4" r="1.7" fill="#fff" stroke="#9a8fd0" stroke-width="0.9"/>
<circle cx="559.5" cy="597.1" r="1.7" fill="#fff" stroke="#9a8fd0" stroke-width="0.9"/>
<circle cx="552.9" cy="584.2" r="1.7" fill="#fff" stroke="#9a8fd0" stroke-width="0.9"/>
<polygon points="597.6,567.0 616.5,562.1 618.9,575.4 620.7,583.7 602.1,589.4 600.7,575.4" fill="#8cc6de" stroke="#6aa0b8" stroke-width="0.6"/>
<polygon points="597.6,567.0 616.5,562.1 609.5,575.4" fill="#6a9fb8" opacity="0.55"/>
<polygon points="618.9,575.4 620.7,583.7 609.5,575.4" fill="#6a9fb8" opacity="0.55"/>
<polygon points="602.1,589.4 600.7,575.4 609.5,575.4" fill="#6a9fb8" opacity="0.55"/>
<circle cx="609.5" cy="575.4" r="3.2" fill="#3f968a" opacity="0.9"/>
<circle cx="609.5" cy="575.4" r="1.3" fill="#b0dcd0" opacity="0.9"/>
<circle cx="597.6" cy="567.0" r="1.7" fill="#fff" stroke="#9a8fd0" stroke-width="0.9"/>
<circle cx="616.5" cy="562.1" r="1.7" fill="#fff" stroke="#9a8fd0" stroke-width="0.9"/>
<circle cx="618.9" cy="575.4" r="1.7" fill="#fff" stroke="#9a8fd0" stroke-width="0.9"/>
<circle cx="620.7" cy="583.7" r="1.7" fill="#fff" stroke="#9a8fd0" stroke-width="0.9"/>
<circle cx="602.1" cy="589.4" r="1.7" fill="#fff" stroke="#9a8fd0" stroke-width="0.9"/>
<circle cx="600.7" cy="575.4" r="1.7" fill="#fff" stroke="#9a8fd0" stroke-width="0.9"/>
<polygon points="575.7,614.3 594.9,607.7 595.8,623.4 599.3,629.2 580.4,635.9 580.0,620.4" fill="#8cc6de" stroke="#6aa0b8" stroke-width="0.6"/>
<polygon points="575.7,614.3 594.9,607.7 587.4,621.3" fill="#6a9fb8" opacity="0.55"/>
<polygon points="595.8,623.4 599.3,629.2 587.4,621.3" fill="#6a9fb8" opacity="0.55"/>
<polygon points="580.4,635.9 580.0,620.4 587.4,621.3" fill="#6a9fb8" opacity="0.55"/>
<circle cx="587.4" cy="621.3" r="3.2" fill="#3f968a" opacity="0.9"/>
<circle cx="587.4" cy="621.3" r="1.3" fill="#b0dcd0" opacity="0.9"/>
<circle cx="575.7" cy="614.3" r="1.7" fill="#fff" stroke="#9a8fd0" stroke-width="0.9"/>
<circle cx="594.9" cy="607.7" r="1.7" fill="#fff" stroke="#9a8fd0" stroke-width="0.9"/>
<circle cx="595.8" cy="623.4" r="1.7" fill="#fff" stroke="#9a8fd0" stroke-width="0.9"/>
<circle cx="599.3" cy="629.2" r="1.7" fill="#fff" stroke="#9a8fd0" stroke-width="0.9"/>
<circle cx="580.4" cy="635.9" r="1.7" fill="#fff" stroke="#9a8fd0" stroke-width="0.9"/>
<circle cx="580.0" cy="620.4" r="1.7" fill="#fff" stroke="#9a8fd0" stroke-width="0.9"/>
<polygon points="621.7,604.7 639.6,600.6 641.7,612.6 644.0,622.7 625.2,626.6 622.4,615.2" fill="#8cc6de" stroke="#6aa0b8" stroke-width="0.6"/>
<polygon points="621.7,604.7 639.6,600.6 631.7,613.4" fill="#6a9fb8" opacity="0.55"/>
<polygon points="641.7,612.6 644.0,622.7 631.7,613.4" fill="#6a9fb8" opacity="0.55"/>
<polygon points="625.2,626.6 622.4,615.2 631.7,613.4" fill="#6a9fb8" opacity="0.55"/>
<circle cx="631.7" cy="613.4" r="3.2" fill="#3f968a" opacity="0.9"/>
<circle cx="631.7" cy="613.4" r="1.3" fill="#b0dcd0" opacity="0.9"/>
<circle cx="621.7" cy="604.7" r="1.7" fill="#fff" stroke="#9a8fd0" stroke-width="0.9"/>
<circle cx="639.6" cy="600.6" r="1.7" fill="#fff" stroke="#9a8fd0" stroke-width="0.9"/>
<circle cx="641.7" cy="612.6" r="1.7" fill="#fff" stroke="#9a8fd0" stroke-width="0.9"/>
<circle cx="644.0" cy="622.7" r="1.7" fill="#fff" stroke="#9a8fd0" stroke-width="0.9"/>
<circle cx="625.2" cy="626.6" r="1.7" fill="#fff" stroke="#9a8fd0" stroke-width="0.9"/>
<circle cx="622.4" cy="615.2" r="1.7" fill="#fff" stroke="#9a8fd0" stroke-width="0.9"/>
<text x="0" y="0" font-size="12.3" transform="translate(534.5,617.5) rotate(-11.5)"><tspan fill="#d6246e">Disconnected</tspan><tspan fill="#111"> octahedra</tspan></text>
<path d="M381.8,567.8 Q460,535 540,557" fill="none" stroke="#c8141c" stroke-width="1.6"/>
<polyline points="533,552 543.7,559.4 531.5,563" fill="none" stroke="#c8141c" stroke-width="1.6"/>
<text x="0.00" y="0.00" font-size="14.5" fill="#c8141c" font-weight="bold" font-style="normal" text-anchor="start" transform="translate(392.3,556) rotate(-16.5)">Path A</text>
<path d="M378.6,610.2 Q410,624 446,612" fill="none" stroke="#1c5cc4" stroke-width="1.6"/>
<polyline points="437,606.5 447,611.8 438.5,618" fill="none" stroke="#1c5cc4" stroke-width="1.6"/>
<text x="398.70" y="631.40" font-size="13.5" fill="#1c5cc4" font-weight="bold" font-style="normal" text-anchor="start" >Path B</text>
<path d="M508,603.7 Q525,596 543.7,588.7" fill="none" stroke="#1c5cc4" stroke-width="1.6"/>
<polyline points="535,586 543.7,588.7 538.5,595.5" fill="none" stroke="#1c5cc4" stroke-width="1.6"/>
<rect x="381.2" y="576.5" width="60.1" height="23.5" rx="2.5" fill="#fbf0e8" stroke="#888" stroke-width="1"/>
<text x="385.00" y="592.80" font-size="14.5" fill="#c8141c" font-weight="bold" font-style="italic" text-anchor="start" >E</text>
<text x="394.30" y="595.70" font-size="9.3" fill="#c8141c" font-weight="bold" font-style="normal" text-anchor="start" >0D</text>
<polyline points="408.8,583.3 413.6,588.3 408.8,593.3" fill="none" stroke="#444" stroke-width="1"/>
<text x="416.90" y="592.80" font-size="14.5" fill="#1c5cc4" font-weight="bold" font-style="italic" text-anchor="start" >E</text>
<text x="426.20" y="595.70" font-size="9.3" fill="#1c5cc4" font-weight="bold" font-style="normal" text-anchor="start" >3D</text></svg>
</body></html>
